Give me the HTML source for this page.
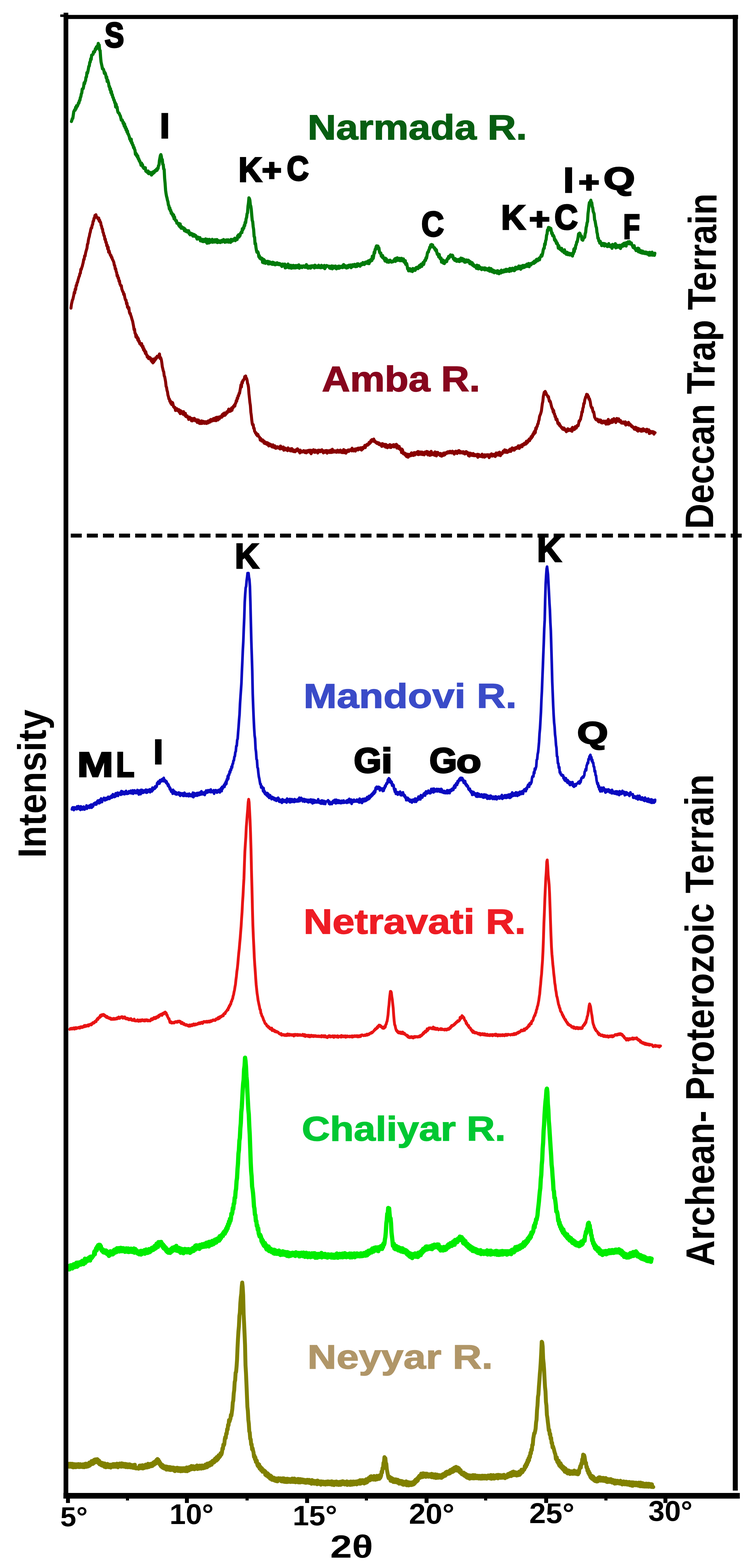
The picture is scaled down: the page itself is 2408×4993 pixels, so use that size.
<!DOCTYPE html>
<html><head><meta charset="utf-8"><title>XRD patterns</title>
<style>html,body{margin:0;padding:0;background:#fff;}svg{display:block;}</style>
</head><body>
<svg width="2408" height="4993" viewBox="0 0 2408 4993"><rect x="0" y="0" width="2408" height="4993" fill="#fff"/>
<polyline points="227.4,386.9 228.9,382.9 230.4,377.6 231.9,376.7 233.4,366.5 234.9,355.8 236.4,352.7 237.9,349.3 239.4,351.0 240.9,341.5 242.4,346.1 243.9,336.4 245.4,339.6 246.9,337.1 248.4,333.4 249.9,327.5 251.4,328.2 252.9,320.2 254.4,319.6 255.9,310.9 257.4,308.0 258.9,299.3 260.4,296.3 261.9,283.9 263.4,282.4 264.9,282.1 266.4,274.9 267.9,263.8 269.4,266.7 270.9,259.8 272.4,257.1 273.9,245.9 275.4,245.0 276.9,231.1 278.4,233.4 279.9,227.7 281.4,220.2 282.9,211.1 284.4,210.2 285.9,198.3 287.4,197.8 288.9,187.1 290.4,189.5 291.9,175.8 293.4,175.6 294.9,173.7 296.4,172.9 297.9,164.9 299.4,166.7 300.9,165.7 302.4,160.6 303.9,155.0 305.4,157.3 306.9,149.5 308.4,154.5 309.9,146.5 311.4,149.6 312.9,138.3 314.4,149.6 315.9,143.4 317.4,159.9 318.9,160.7 320.4,182.5 321.9,197.5 323.4,204.3 324.9,211.3 326.4,219.2 327.9,218.6 329.4,220.5 330.9,225.0 332.4,233.7 333.9,230.8 335.4,233.4 336.9,238.8 338.4,248.3 339.9,245.1 341.4,259.7 342.9,254.8 344.4,260.3 345.9,265.0 347.4,275.7 348.9,275.3 350.4,285.9 351.9,282.4 353.4,295.4 354.9,291.0 356.4,301.9 357.9,301.8 359.4,310.0 360.9,311.1 362.4,318.4 363.9,318.8 365.4,327.2 366.9,326.6 368.4,340.7 369.9,331.9 371.4,343.2 372.9,340.6 374.4,351.6 375.9,357.6 377.4,359.5 378.9,359.8 380.4,363.3 381.9,366.9 383.4,369.5 384.9,375.4 386.4,382.5 387.9,382.8 389.4,382.3 390.9,386.8 392.4,393.3 393.9,390.2 395.4,401.1 396.9,395.3 398.4,406.9 399.9,403.5 401.4,413.8 402.9,410.1 404.4,420.6 405.9,416.8 407.4,426.4 408.9,426.9 410.4,431.9 411.9,435.8 413.4,443.3 414.9,442.4 416.4,449.6 417.9,443.1 419.4,455.8 420.9,454.4 422.4,462.0 423.9,461.8 425.4,470.3 426.9,469.2 428.4,475.3 429.9,478.0 431.4,491.4 432.9,487.4 434.4,495.3 435.9,492.1 437.4,500.1 438.9,496.9 440.4,505.9 441.9,505.1 443.4,512.1 444.9,511.8 446.4,517.4 447.9,520.2 449.4,526.6 450.9,519.6 452.4,526.7 453.9,524.3 455.4,532.7 456.9,532.1 458.4,536.6 459.9,535.7 461.4,537.3 462.9,534.0 464.4,545.1 465.9,545.7 467.4,547.3 468.9,545.6 470.4,549.8 471.9,544.6 473.4,553.0 474.9,548.5 476.4,552.8 477.9,549.0 479.4,553.2 480.9,551.0 482.4,557.5 483.9,549.2 485.4,554.2 486.9,547.4 488.4,551.8 489.9,546.0 491.4,549.2 492.9,544.6 494.4,542.7 495.9,541.9 497.4,544.0 498.9,538.4 500.4,542.1 501.9,535.4 503.4,536.7 504.9,527.3 506.4,526.2 507.9,510.8 509.4,502.9 510.9,495.2 512.4,492.2 513.9,497.8 515.4,510.2 516.9,508.0 518.4,523.2 519.9,524.0 521.4,538.1 522.9,539.3 524.4,568.2 525.9,583.8 527.4,605.7 528.9,616.6 530.4,624.8 531.9,630.0 533.4,637.9 534.9,642.2 536.4,652.9 537.9,654.7 539.4,665.3 540.9,661.9 542.4,671.0 543.9,669.6 545.4,679.3 546.9,676.8 548.4,683.3 549.9,681.6 551.4,689.0 552.9,684.2 554.4,696.8 555.9,690.8 557.4,699.1 558.9,701.4 560.4,703.7 561.9,702.5 563.4,710.8 564.9,710.7 566.4,711.4 567.9,711.0 569.4,717.7 570.9,711.9 572.4,721.8 573.9,713.2 575.4,722.7 576.9,726.7 578.4,721.8 579.9,723.6 581.4,727.3 582.9,724.9 584.4,725.5 585.9,726.8 587.4,734.5 588.9,728.5 590.4,735.8 591.9,733.1 593.4,737.4 594.9,733.8 596.4,738.7 597.9,736.3 599.4,738.4 600.9,734.6 602.4,743.9 603.9,740.3 605.4,747.7 606.9,742.6 608.4,746.7 609.9,743.4 611.4,748.0 612.9,744.7 614.4,751.9 615.9,746.2 617.4,751.7 618.9,747.0 620.4,752.4 621.9,749.3 623.4,750.1 624.9,752.0 626.4,758.1 627.9,761.4 629.4,758.7 630.9,755.2 632.4,759.6 633.9,756.5 635.4,761.9 636.9,756.7 638.4,766.9 639.9,761.4 641.4,764.6 642.9,762.6 644.4,768.8 645.9,762.3 647.4,769.5 648.9,762.8 650.4,767.5 651.9,764.6 653.4,769.3 654.9,760.7 656.4,765.1 657.9,770.5 659.4,774.5 660.9,762.2 662.4,771.2 663.9,765.0 665.4,773.6 666.9,762.3 668.4,771.6 669.9,764.8 671.4,771.2 672.9,766.5 674.4,769.4 675.9,762.1 677.4,771.5 678.9,763.9 680.4,770.0 681.9,766.6 683.4,770.7 684.9,763.2 686.4,764.8 687.9,766.1 689.4,770.9 690.9,762.8 692.4,772.4 693.9,766.4 695.4,771.6 696.9,766.2 698.4,770.0 699.9,770.9 701.4,772.3 702.9,766.8 704.4,770.8 705.9,765.5 707.4,770.6 708.9,766.5 710.4,766.6 711.9,762.7 713.4,769.4 714.9,766.0 716.4,771.6 717.9,764.9 719.4,769.3 720.9,763.9 722.4,770.5 723.9,764.1 725.4,770.0 726.9,763.5 728.4,771.0 729.9,770.2 731.4,768.4 732.9,764.7 734.4,771.8 735.9,762.3 737.4,767.4 738.9,762.7 740.4,767.7 741.9,762.6 743.4,765.1 744.9,761.7 746.4,764.2 747.9,758.4 749.4,766.4 750.9,761.7 752.4,761.9 753.9,760.3 755.4,762.7 756.9,751.1 758.4,755.0 759.9,747.6 761.4,754.9 762.9,747.1 764.4,750.8 765.9,743.3 767.4,741.3 768.9,738.4 770.4,740.8 771.9,728.4 773.4,732.1 774.9,725.1 776.4,726.8 777.9,717.4 779.4,718.8 780.9,707.7 782.4,709.3 783.9,696.7 785.4,692.6 786.9,680.9 788.4,677.8 789.9,656.8 791.4,647.1 792.9,629.9 794.4,632.5 795.9,637.6 797.4,652.6 798.9,656.7 800.4,667.1 801.9,685.5 803.4,701.7 804.9,705.7 806.4,721.8 807.9,730.8 809.4,752.9 810.9,755.4 812.4,776.8 813.9,775.3 815.4,788.7 816.9,797.3 818.4,803.2 819.9,800.7 821.4,802.4 822.9,806.6 824.4,817.5 825.9,814.1 827.4,822.0 828.9,819.5 830.4,824.6 831.9,821.3 833.4,822.4 834.9,823.0 836.4,835.6 837.9,825.6 839.4,836.9 840.9,826.7 842.4,829.6 843.9,831.0 845.4,838.5 846.9,832.1 848.4,835.9 849.9,833.4 851.4,833.6 852.9,832.1 854.4,840.4 855.9,833.4 857.4,840.3 858.9,833.6 860.4,839.8 861.9,836.3 863.4,839.8 864.9,836.1 866.4,841.6 867.9,835.1 869.4,841.9 870.9,835.6 872.4,840.4 873.9,837.3 875.4,842.9 876.9,843.3 878.4,842.4 879.9,837.7 881.4,841.8 882.9,836.7 884.4,842.0 885.9,838.9 887.4,842.6 888.9,838.7 890.4,842.8 891.9,839.8 893.4,843.9 894.9,841.1 896.4,845.4 897.9,848.4 899.4,848.0 900.9,840.8 902.4,845.7 903.9,845.8 905.4,846.1 906.9,840.9 908.4,853.1 909.9,844.0 911.4,852.0 912.9,845.4 914.4,851.1 915.9,843.8 917.4,840.8 918.9,843.5 920.4,852.8 921.9,850.5 923.4,852.6 924.9,851.7 926.4,844.8 927.9,854.0 929.4,846.2 930.9,847.1 932.4,853.0 933.9,845.0 935.4,851.7 936.9,853.2 938.4,845.9 939.9,847.4 941.4,853.1 942.9,845.5 944.4,851.7 945.9,846.5 947.4,851.9 948.9,845.0 950.4,850.1 951.9,843.6 953.4,854.1 954.9,846.7 956.4,850.0 957.9,847.6 959.4,851.3 960.9,846.9 962.4,852.0 963.9,850.0 965.4,850.0 966.9,846.5 968.4,847.5 969.9,846.9 971.4,851.4 972.9,847.0 974.4,850.4 975.9,842.6 977.4,851.8 978.9,846.5 980.4,853.5 981.9,853.8 983.4,850.7 984.9,847.5 986.4,853.1 987.9,852.4 989.4,853.7 990.9,846.6 992.4,850.6 993.9,846.5 995.4,850.5 996.9,846.3 998.4,850.9 999.9,847.9 1001.4,853.2 1002.9,844.5 1004.4,851.5 1005.9,846.0 1007.4,850.8 1008.9,851.6 1010.4,850.9 1011.9,847.4 1013.4,851.8 1014.9,844.6 1016.4,850.9 1017.9,848.0 1019.4,852.3 1020.9,847.3 1022.4,852.5 1023.9,844.8 1025.4,851.5 1026.9,848.1 1028.4,851.8 1029.9,847.9 1031.4,847.0 1032.9,845.3 1034.4,855.5 1035.9,848.5 1037.4,851.4 1038.9,848.7 1040.4,845.5 1041.9,846.4 1043.4,847.0 1044.9,847.8 1046.4,847.4 1047.9,847.9 1049.4,853.1 1050.9,847.8 1052.4,854.7 1053.9,852.9 1055.4,853.5 1056.9,846.7 1058.4,856.0 1059.9,848.5 1061.4,852.1 1062.9,847.4 1064.4,852.9 1065.9,848.1 1067.4,852.6 1068.9,847.1 1070.4,855.0 1071.9,856.1 1073.4,853.1 1074.9,849.4 1076.4,853.1 1077.9,847.4 1079.4,854.5 1080.9,847.4 1082.4,852.2 1083.9,852.5 1085.4,852.0 1086.9,847.9 1088.4,847.4 1089.9,848.0 1091.4,852.2 1092.9,845.6 1094.4,842.4 1095.9,848.6 1097.4,851.1 1098.9,845.5 1100.4,850.6 1101.9,851.5 1103.4,853.5 1104.9,847.7 1106.4,846.3 1107.9,852.4 1109.4,849.7 1110.9,844.6 1112.4,846.9 1113.9,844.3 1115.4,849.6 1116.9,843.8 1118.4,852.3 1119.9,845.0 1121.4,849.4 1122.9,843.0 1124.4,848.4 1125.9,843.4 1127.4,847.8 1128.9,841.8 1130.4,844.3 1131.9,849.2 1133.4,847.9 1134.9,842.0 1136.4,848.7 1137.9,840.2 1139.4,846.2 1140.9,840.1 1142.4,845.4 1143.9,846.2 1145.4,846.1 1146.9,847.7 1148.4,843.6 1149.9,839.9 1151.4,843.5 1152.9,839.8 1154.4,842.4 1155.9,836.0 1157.4,837.7 1158.9,837.8 1160.4,842.3 1161.9,837.0 1163.4,835.3 1164.9,834.6 1166.4,838.5 1167.9,834.3 1169.4,837.7 1170.9,832.2 1172.4,839.2 1173.9,830.2 1175.4,839.5 1176.9,830.5 1178.4,834.0 1179.9,827.6 1181.4,830.7 1182.9,825.0 1184.4,829.8 1185.9,815.8 1187.4,824.3 1188.9,822.5 1190.4,813.3 1191.9,802.5 1193.4,805.6 1194.9,794.2 1196.4,794.2 1197.9,786.3 1199.4,782.9 1200.9,788.6 1202.4,783.4 1203.9,783.8 1205.4,792.8 1206.9,789.4 1208.4,800.6 1209.9,805.2 1211.4,806.9 1212.9,805.7 1214.4,815.4 1215.9,812.4 1217.4,819.2 1218.9,813.7 1220.4,821.6 1221.9,820.2 1223.4,824.8 1224.9,826.5 1226.4,831.0 1227.9,822.2 1229.4,827.2 1230.9,825.0 1232.4,834.2 1233.9,832.4 1235.4,834.5 1236.9,830.5 1238.4,834.9 1239.9,829.0 1241.4,833.7 1242.9,828.6 1244.4,833.6 1245.9,833.7 1247.4,834.8 1248.9,832.2 1250.4,833.6 1251.9,833.5 1253.4,831.0 1254.9,827.7 1256.4,830.4 1257.9,824.0 1259.4,832.4 1260.9,822.8 1262.4,827.8 1263.9,828.6 1265.4,820.9 1266.9,829.2 1268.4,826.6 1269.9,828.7 1271.4,826.3 1272.9,822.7 1274.4,830.3 1275.9,828.4 1277.4,826.3 1278.9,822.5 1280.4,830.3 1281.9,826.2 1283.4,830.6 1284.9,824.4 1286.4,833.5 1287.9,829.5 1289.4,836.9 1290.9,830.1 1292.4,842.1 1293.9,838.5 1295.4,839.2 1296.9,846.7 1298.4,856.5 1299.9,853.6 1301.4,862.5 1302.9,857.4 1304.4,858.6 1305.9,855.5 1307.4,862.8 1308.9,858.9 1310.4,858.9 1311.9,858.3 1313.4,864.7 1314.9,855.0 1316.4,860.8 1317.9,857.3 1319.4,860.7 1320.9,855.5 1322.4,860.9 1323.9,857.4 1325.4,852.1 1326.9,851.7 1328.4,855.2 1329.9,850.9 1331.4,855.4 1332.9,849.2 1334.4,851.8 1335.9,845.4 1337.4,851.6 1338.9,843.6 1340.4,848.0 1341.9,840.9 1343.4,848.2 1344.9,839.8 1346.4,842.3 1347.9,835.5 1349.4,842.2 1350.9,835.7 1352.4,830.4 1353.9,827.5 1355.4,829.3 1356.9,820.6 1358.4,822.6 1359.9,814.7 1361.4,805.7 1362.9,802.3 1364.4,802.7 1365.9,796.0 1367.4,793.9 1368.9,786.9 1370.4,788.7 1371.9,779.8 1373.4,785.7 1374.9,778.6 1376.4,785.0 1377.9,780.0 1379.4,784.8 1380.9,787.8 1382.4,789.1 1383.9,788.8 1385.4,794.6 1386.9,792.5 1388.4,798.8 1389.9,795.5 1391.4,803.7 1392.9,809.9 1394.4,807.6 1395.9,811.0 1397.4,818.1 1398.9,810.1 1400.4,818.5 1401.9,823.6 1403.4,821.0 1404.9,821.7 1406.4,834.9 1407.9,834.1 1409.4,834.3 1410.9,828.2 1412.4,838.0 1413.9,832.8 1415.4,839.3 1416.9,833.5 1418.4,830.5 1419.9,832.8 1421.4,833.4 1422.9,832.9 1424.4,825.1 1425.9,822.8 1427.4,824.2 1428.9,816.6 1430.4,821.6 1431.9,816.6 1433.4,816.5 1434.9,811.6 1436.4,814.3 1437.9,816.1 1439.4,817.1 1440.9,812.4 1442.4,815.2 1443.9,823.4 1445.4,825.5 1446.9,823.6 1448.4,829.2 1449.9,823.3 1451.4,828.9 1452.9,829.7 1454.4,832.0 1455.9,826.6 1457.4,829.6 1458.9,826.8 1460.4,832.1 1461.9,825.9 1463.4,832.9 1464.9,825.6 1466.4,830.3 1467.9,821.8 1469.4,830.6 1470.9,826.6 1472.4,823.1 1473.9,830.8 1475.4,824.7 1476.9,830.3 1478.4,826.3 1479.9,834.8 1481.4,835.0 1482.9,828.8 1484.4,833.6 1485.9,827.7 1487.4,833.7 1488.9,829.9 1490.4,833.4 1491.9,828.5 1493.4,834.6 1494.9,831.5 1496.4,839.5 1497.9,833.2 1499.4,839.0 1500.9,841.1 1502.4,841.7 1503.9,836.4 1505.4,844.7 1506.9,840.5 1508.4,846.6 1509.9,844.6 1511.4,848.8 1512.9,846.1 1514.4,849.7 1515.9,848.0 1517.4,854.4 1518.9,844.4 1520.4,854.8 1521.9,848.6 1523.4,856.2 1524.9,846.1 1526.4,855.1 1527.9,855.0 1529.4,851.0 1530.9,852.1 1532.4,856.3 1533.9,858.5 1535.4,855.5 1536.9,853.1 1538.4,856.2 1539.9,857.0 1541.4,858.2 1542.9,853.1 1544.4,859.4 1545.9,853.4 1547.4,858.8 1548.9,855.3 1550.4,858.7 1551.9,855.8 1553.4,860.5 1554.9,856.2 1556.4,860.8 1557.9,853.6 1559.4,863.5 1560.9,862.0 1562.4,863.6 1563.9,855.2 1565.4,857.2 1566.9,861.1 1568.4,865.9 1569.9,859.9 1571.4,864.9 1572.9,861.2 1574.4,868.7 1575.9,863.5 1577.4,867.3 1578.9,863.3 1580.4,867.0 1581.9,863.1 1583.4,869.9 1584.9,861.9 1586.4,868.5 1587.9,863.4 1589.4,871.6 1590.9,868.8 1592.4,868.3 1593.9,863.8 1595.4,869.1 1596.9,860.2 1598.4,867.0 1599.9,863.5 1601.4,866.8 1602.9,862.1 1604.4,865.9 1605.9,859.7 1607.4,865.0 1608.9,860.4 1610.4,864.3 1611.9,857.5 1613.4,864.2 1614.9,858.0 1616.4,862.4 1617.9,861.8 1619.4,863.4 1620.9,856.9 1622.4,864.3 1623.9,854.7 1625.4,861.5 1626.9,862.1 1628.4,862.6 1629.9,855.0 1631.4,860.6 1632.9,854.1 1634.4,855.7 1635.9,855.6 1637.4,862.1 1638.9,861.3 1640.4,858.2 1641.9,850.9 1643.4,857.9 1644.9,851.6 1646.4,856.0 1647.9,851.9 1649.4,856.1 1650.9,851.3 1652.4,847.1 1653.9,848.0 1655.4,854.4 1656.9,847.7 1658.4,857.4 1659.9,849.1 1661.4,852.8 1662.9,846.4 1664.4,853.1 1665.9,845.1 1667.4,851.3 1668.9,845.7 1670.4,851.5 1671.9,844.9 1673.4,848.5 1674.9,844.5 1676.4,848.5 1677.9,841.3 1679.4,848.2 1680.9,840.8 1682.4,842.1 1683.9,839.1 1685.4,849.3 1686.9,840.7 1688.4,844.0 1689.9,839.3 1691.4,843.5 1692.9,840.1 1694.4,839.6 1695.9,836.7 1697.4,838.6 1698.9,834.4 1700.4,838.7 1701.9,831.6 1703.4,836.5 1704.9,831.5 1706.4,834.1 1707.9,827.7 1709.4,825.6 1710.9,827.7 1712.4,830.5 1713.9,825.9 1715.4,826.9 1716.9,822.2 1718.4,827.5 1719.9,820.1 1721.4,818.3 1722.9,816.0 1724.4,811.5 1725.9,815.8 1727.4,810.9 1728.9,804.5 1730.4,795.2 1731.9,790.8 1733.4,790.9 1734.9,776.5 1736.4,779.2 1737.9,767.2 1739.4,763.4 1740.9,749.0 1742.4,745.4 1743.9,732.0 1745.4,734.5 1746.9,724.2 1748.4,729.3 1749.9,724.7 1751.4,730.2 1752.9,727.7 1754.4,727.3 1755.9,735.1 1757.4,743.8 1758.9,741.6 1760.4,750.6 1761.9,748.6 1763.4,751.3 1764.9,754.6 1766.4,764.6 1767.9,762.0 1769.4,768.5 1770.9,766.6 1772.4,775.5 1773.9,772.4 1775.4,775.6 1776.9,779.9 1778.4,790.2 1779.9,782.7 1781.4,790.5 1782.9,793.0 1784.4,794.1 1785.9,790.4 1787.4,796.7 1788.9,790.8 1790.4,799.8 1791.9,797.2 1793.4,798.5 1794.9,797.9 1796.4,804.4 1797.9,795.5 1799.4,806.1 1800.9,801.2 1802.4,807.1 1803.9,809.8 1805.4,807.8 1806.9,803.5 1808.4,810.8 1809.9,806.5 1811.4,810.9 1812.9,806.5 1814.4,812.0 1815.9,807.2 1817.4,811.8 1818.9,808.0 1820.4,807.9 1821.9,808.3 1823.4,815.4 1824.9,805.0 1826.4,807.8 1827.9,793.2 1829.4,801.2 1830.9,789.4 1832.4,792.2 1833.9,780.8 1835.4,779.5 1836.9,770.5 1838.4,770.4 1839.9,763.3 1841.4,755.3 1842.9,744.8 1844.4,745.1 1845.9,742.2 1847.4,743.5 1848.9,750.3 1850.4,752.4 1851.9,751.3 1853.4,762.8 1854.9,763.8 1856.4,765.0 1857.9,758.9 1859.4,758.4 1860.9,756.6 1862.4,755.3 1863.9,744.0 1865.4,740.2 1866.9,724.6 1868.4,719.5 1869.9,709.3 1871.4,706.0 1872.9,680.7 1874.4,669.1 1875.9,654.8 1877.4,645.0 1878.9,644.5 1880.4,642.1 1881.9,637.6 1883.4,645.7 1884.9,645.7 1886.4,658.4 1887.9,661.5 1889.4,673.4 1890.9,676.9 1892.4,681.4 1893.9,699.8 1895.4,703.2 1896.9,712.3 1898.4,721.3 1899.9,724.8 1901.4,739.9 1902.9,745.0 1904.4,758.8 1905.9,758.1 1907.4,767.4 1908.9,766.5 1910.4,774.2 1911.9,768.4 1913.4,775.5 1914.9,773.6 1916.4,782.1 1917.9,775.2 1919.4,778.7 1920.9,775.2 1922.4,781.9 1923.9,775.4 1925.4,783.4 1926.9,777.3 1928.4,776.7 1929.9,778.0 1931.4,782.1 1932.9,782.6 1934.4,785.2 1935.9,783.8 1937.4,784.6 1938.9,775.8 1940.4,780.7 1941.9,780.2 1943.4,785.5 1944.9,781.3 1946.4,784.5 1947.9,780.6 1949.4,790.7 1950.9,778.2 1952.4,785.7 1953.9,780.1 1955.4,785.2 1956.9,781.7 1958.4,785.4 1959.9,775.9 1961.4,789.4 1962.9,786.5 1964.4,786.3 1965.9,781.0 1967.4,787.4 1968.9,783.7 1970.4,786.4 1971.9,781.3 1973.4,787.9 1974.9,781.1 1976.4,791.2 1977.9,781.9 1979.4,786.4 1980.9,784.2 1982.4,778.3 1983.9,780.5 1985.4,783.5 1986.9,774.9 1988.4,782.1 1989.9,777.0 1991.4,773.7 1992.9,779.1 1994.4,783.5 1995.9,772.5 1997.4,776.9 1998.9,772.0 2000.4,769.8 2001.9,771.9 2003.4,776.3 2004.9,769.5 2006.4,776.3 2007.9,772.8 2009.4,777.0 2010.9,773.5 2012.4,779.5 2013.9,781.5 2015.4,784.4 2016.9,788.4 2018.4,788.7 2019.9,782.3 2021.4,791.3 2022.9,789.7 2024.4,794.2 2025.9,797.9 2027.4,797.7 2028.9,792.9 2030.4,798.2 2031.9,790.2 2033.4,801.7 2034.9,791.8 2036.4,800.2 2037.9,802.9 2039.4,803.9 2040.9,797.9 2042.4,802.8 2043.9,805.6 2045.4,804.2 2046.9,799.4 2048.4,806.6 2049.9,804.5 2051.4,805.7 2052.9,802.4 2054.4,807.5 2055.9,802.6 2057.4,807.4 2058.9,803.0 2060.4,808.6 2061.9,804.6 2063.4,809.3 2064.9,804.3 2066.4,812.1 2067.9,812.7 2069.4,803.4 2070.9,805.9 2072.4,812.3 2073.9,806.9 2075.4,811.6 2076.9,803.0 2078.4,812.6 2079.9,807.3 2081.4,812.4 2082.9,809.1 2084.4,813.1 2085.8,806.3" fill="none" stroke="#007a0a" stroke-width="10" stroke-linejoin="round" stroke-linecap="round"/>
<polyline points="226.0,981.3 227.5,969.3 229.0,962.9 230.5,955.8 232.0,953.3 233.5,946.4 235.0,940.0 236.5,930.7 238.0,933.1 239.5,920.4 241.0,922.2 242.5,909.2 244.0,909.1 245.5,900.3 247.0,899.0 248.5,892.0 250.0,887.0 251.5,881.5 253.0,879.1 254.5,870.8 256.0,870.2 257.5,857.1 259.0,857.9 260.5,852.0 262.0,848.1 263.5,841.7 265.0,836.1 266.5,826.2 268.0,826.2 269.5,814.6 271.0,815.7 272.5,806.2 274.0,800.2 275.5,795.2 277.0,790.2 278.5,777.6 280.0,775.7 281.5,764.8 283.0,757.5 284.5,753.0 286.0,744.1 287.5,739.6 289.0,731.0 290.5,725.7 292.0,726.1 293.5,716.9 295.0,715.0 296.5,704.4 298.0,703.9 299.5,694.9 301.0,695.1 302.5,685.8 304.0,689.9 305.5,683.7 307.0,689.9 308.5,691.4 310.0,692.7 311.5,695.7 313.0,697.9 314.5,694.1 316.0,704.1 317.5,701.0 319.0,707.5 320.5,707.9 322.0,717.3 323.5,719.9 325.0,727.9 326.5,729.0 328.0,739.9 329.5,741.8 331.0,750.4 332.5,751.1 334.0,762.6 335.5,761.1 337.0,771.5 338.5,771.6 340.0,782.8 341.5,780.2 343.0,792.8 344.5,787.0 346.0,803.2 347.5,798.3 349.0,804.4 350.5,809.7 352.0,813.3 353.5,813.0 355.0,819.7 356.5,819.5 358.0,826.0 359.5,827.9 361.0,831.8 362.5,835.0 364.0,844.2 365.5,845.7 367.0,856.3 368.5,855.5 370.0,864.8 371.5,867.4 373.0,879.0 374.5,876.5 376.0,885.8 377.5,884.7 379.0,895.7 380.5,893.7 382.0,904.4 383.5,906.8 385.0,910.8 386.5,909.6 388.0,920.4 389.5,924.3 391.0,928.8 392.5,929.9 394.0,938.0 395.5,936.1 397.0,944.4 398.5,951.5 400.0,955.8 401.5,955.6 403.0,967.7 404.5,964.9 406.0,978.5 407.5,975.8 409.0,983.4 410.5,979.7 412.0,993.4 413.5,998.3 415.0,998.1 416.5,1004.3 418.0,1008.0 419.5,1013.5 421.0,1018.9 422.5,1023.1 424.0,1031.4 425.5,1039.0 427.0,1049.9 428.5,1047.8 430.0,1061.0 431.5,1061.9 433.0,1073.0 434.5,1067.4 436.0,1076.1 437.5,1073.2 439.0,1082.9 440.5,1077.7 442.0,1087.9 443.5,1085.9 445.0,1094.2 446.5,1094.2 448.0,1095.3 449.5,1099.7 451.0,1093.8 452.5,1100.4 454.0,1106.6 455.5,1102.6 457.0,1113.9 458.5,1109.9 460.0,1118.3 461.5,1116.0 463.0,1125.4 464.5,1120.3 466.0,1129.0 467.5,1129.6 469.0,1137.0 470.5,1133.5 472.0,1138.4 473.5,1142.1 475.0,1139.0 476.5,1137.8 478.0,1140.4 479.5,1140.2 481.0,1148.1 482.5,1144.7 484.0,1152.0 485.5,1146.8 487.0,1155.5 488.5,1143.1 490.0,1152.4 491.5,1146.1 493.0,1148.0 494.5,1146.0 496.0,1139.0 497.5,1142.0 499.0,1139.7 500.5,1134.2 502.0,1137.1 503.5,1134.8 505.0,1136.6 506.5,1131.3 508.0,1126.9 509.5,1141.2 511.0,1138.0 512.5,1140.8 514.0,1146.2 515.5,1155.6 517.0,1168.0 518.5,1173.8 520.0,1180.9 521.5,1184.0 523.0,1196.8 524.5,1199.4 526.0,1207.5 527.5,1215.8 529.0,1230.2 530.5,1233.5 532.0,1243.4 533.5,1247.6 535.0,1258.5 536.5,1262.9 538.0,1270.2 539.5,1270.4 541.0,1278.3 542.5,1276.2 544.0,1284.3 545.5,1281.9 547.0,1288.5 548.5,1281.2 550.0,1282.8 551.5,1289.2 553.0,1295.8 554.5,1295.5 556.0,1299.1 557.5,1297.3 559.0,1307.3 560.5,1303.5 562.0,1304.4 563.5,1301.3 565.0,1307.2 566.5,1305.2 568.0,1308.6 569.5,1304.2 571.0,1312.6 572.5,1306.5 574.0,1317.3 575.5,1307.9 577.0,1315.0 578.5,1311.3 580.0,1315.9 581.5,1311.0 583.0,1319.2 584.5,1310.8 586.0,1319.4 587.5,1316.5 589.0,1323.1 590.5,1316.1 592.0,1326.4 593.5,1323.5 595.0,1327.3 596.5,1324.3 598.0,1329.5 599.5,1328.6 601.0,1335.8 602.5,1330.0 604.0,1328.3 605.5,1331.5 607.0,1334.8 608.5,1331.6 610.0,1340.1 611.5,1334.1 613.0,1340.3 614.5,1332.8 616.0,1338.1 617.5,1334.0 619.0,1332.0 620.5,1334.7 622.0,1340.0 623.5,1337.8 625.0,1340.4 626.5,1336.7 628.0,1345.1 629.5,1337.0 631.0,1342.2 632.5,1337.6 634.0,1347.5 635.5,1346.6 637.0,1348.7 638.5,1345.7 640.0,1348.3 641.5,1340.1 643.0,1348.5 644.5,1340.9 646.0,1347.2 647.5,1341.7 649.0,1347.0 650.5,1347.9 652.0,1348.1 653.5,1342.6 655.0,1346.8 656.5,1343.9 658.0,1348.4 659.5,1342.3 661.0,1346.9 662.5,1340.5 664.0,1346.4 665.5,1339.9 667.0,1343.9 668.5,1337.7 670.0,1343.7 671.5,1335.6 673.0,1340.2 674.5,1336.6 676.0,1340.5 677.5,1336.0 679.0,1333.6 680.5,1332.4 682.0,1339.3 683.5,1333.0 685.0,1338.8 686.5,1330.3 688.0,1339.7 689.5,1328.8 691.0,1335.5 692.5,1335.4 694.0,1337.5 695.5,1328.1 697.0,1332.8 698.5,1334.1 700.0,1330.6 701.5,1326.6 703.0,1326.7 704.5,1328.3 706.0,1328.9 707.5,1320.6 709.0,1325.6 710.5,1317.8 712.0,1323.8 713.5,1317.3 715.0,1314.9 716.5,1322.5 718.0,1320.7 719.5,1318.2 721.0,1317.0 722.5,1311.2 724.0,1314.6 725.5,1309.5 727.0,1307.7 728.5,1302.6 730.0,1309.4 731.5,1310.2 733.0,1306.8 734.5,1309.3 736.0,1304.8 737.5,1299.1 739.0,1306.6 740.5,1297.0 742.0,1299.5 743.5,1293.6 745.0,1295.0 746.5,1289.7 748.0,1293.3 749.5,1284.9 751.0,1283.9 752.5,1275.7 754.0,1277.7 755.5,1267.5 757.0,1269.3 758.5,1259.8 760.0,1260.5 761.5,1252.6 763.0,1252.8 764.5,1243.3 766.0,1235.4 767.5,1225.3 769.0,1232.4 770.5,1217.1 772.0,1219.8 773.5,1211.6 775.0,1212.2 776.5,1208.1 778.0,1207.1 779.5,1199.3 781.0,1201.2 782.5,1197.1 784.0,1206.2 785.5,1204.9 787.0,1210.4 788.5,1220.6 790.0,1224.4 791.5,1233.1 793.0,1253.7 794.5,1267.3 796.0,1282.0 797.5,1291.4 799.0,1312.9 800.5,1323.1 802.0,1338.2 803.5,1349.4 805.0,1353.5 806.5,1352.0 808.0,1363.7 809.5,1363.7 811.0,1373.5 812.5,1374.9 814.0,1379.4 815.5,1378.2 817.0,1384.4 818.5,1381.5 820.0,1387.9 821.5,1383.2 823.0,1388.4 824.5,1390.2 826.0,1391.3 827.5,1394.5 829.0,1401.6 830.5,1396.2 832.0,1401.2 833.5,1404.4 835.0,1404.4 836.5,1400.7 838.0,1406.2 839.5,1403.5 841.0,1411.0 842.5,1405.9 844.0,1412.6 845.5,1408.8 847.0,1409.5 848.5,1408.9 850.0,1415.1 851.5,1409.7 853.0,1415.4 854.5,1411.3 856.0,1420.1 857.5,1413.2 859.0,1418.1 860.5,1414.4 862.0,1419.2 863.5,1415.9 865.0,1421.7 866.5,1423.2 868.0,1423.2 869.5,1416.5 871.0,1424.3 872.5,1419.8 874.0,1424.7 875.5,1419.5 877.0,1426.8 878.5,1427.6 880.0,1426.9 881.5,1425.4 883.0,1422.5 884.5,1422.8 886.0,1426.6 887.5,1423.8 889.0,1427.4 890.5,1423.6 892.0,1429.7 893.5,1420.2 895.0,1428.5 896.5,1423.8 898.0,1428.8 899.5,1423.9 901.0,1429.4 902.5,1423.3 904.0,1433.8 905.5,1430.6 907.0,1427.7 908.5,1426.9 910.0,1432.6 911.5,1429.1 913.0,1431.6 914.5,1429.7 916.0,1435.2 917.5,1426.1 919.0,1433.6 920.5,1430.0 922.0,1432.8 923.5,1429.8 925.0,1435.9 926.5,1428.9 928.0,1435.5 929.5,1428.4 931.0,1436.5 932.5,1431.1 934.0,1436.1 935.5,1438.1 937.0,1435.9 938.5,1437.4 940.0,1438.7 941.5,1432.4 943.0,1436.4 944.5,1433.5 946.0,1431.8 947.5,1429.0 949.0,1432.2 950.5,1433.1 952.0,1437.7 953.5,1433.4 955.0,1442.3 956.5,1433.2 958.0,1436.7 959.5,1436.7 961.0,1439.6 962.5,1439.3 964.0,1438.0 965.5,1438.9 967.0,1434.9 968.5,1435.2 970.0,1439.7 971.5,1441.3 973.0,1438.0 974.5,1435.6 976.0,1442.1 977.5,1438.8 979.0,1439.5 980.5,1434.4 982.0,1438.8 983.5,1434.7 985.0,1433.6 986.5,1434.8 988.0,1441.2 989.5,1433.6 991.0,1444.9 992.5,1434.5 994.0,1440.6 995.5,1436.0 997.0,1439.5 998.5,1432.0 1000.0,1439.1 1001.5,1435.0 1003.0,1440.7 1004.5,1433.5 1006.0,1434.6 1007.5,1435.5 1009.0,1435.8 1010.5,1436.3 1012.0,1442.6 1013.5,1433.4 1015.0,1433.9 1016.5,1433.3 1018.0,1438.3 1019.5,1434.4 1021.0,1438.3 1022.5,1434.8 1024.0,1432.4 1025.5,1432.3 1027.0,1438.3 1028.5,1435.2 1030.0,1442.3 1031.5,1435.7 1033.0,1436.4 1034.5,1435.4 1036.0,1440.2 1037.5,1434.7 1039.0,1439.0 1040.5,1434.6 1042.0,1443.0 1043.5,1435.5 1045.0,1439.7 1046.5,1435.2 1048.0,1440.0 1049.5,1435.3 1051.0,1441.1 1052.5,1433.6 1054.0,1440.5 1055.5,1440.6 1057.0,1440.9 1058.5,1430.5 1060.0,1438.9 1061.5,1435.4 1063.0,1439.6 1064.5,1435.3 1066.0,1435.8 1067.5,1435.5 1069.0,1439.6 1070.5,1438.3 1072.0,1440.2 1073.5,1436.2 1075.0,1433.2 1076.5,1434.9 1078.0,1439.8 1079.5,1435.0 1081.0,1439.7 1082.5,1435.0 1084.0,1433.1 1085.5,1439.9 1087.0,1436.3 1088.5,1435.5 1090.0,1441.5 1091.5,1435.2 1093.0,1436.2 1094.5,1431.4 1096.0,1441.6 1097.5,1434.4 1099.0,1439.5 1100.5,1434.2 1102.0,1443.0 1103.5,1440.0 1105.0,1438.5 1106.5,1434.2 1108.0,1437.7 1109.5,1432.5 1111.0,1437.5 1112.5,1434.8 1114.0,1434.3 1115.5,1431.9 1117.0,1434.2 1118.5,1432.7 1120.0,1435.7 1121.5,1427.1 1123.0,1435.2 1124.5,1431.7 1126.0,1436.0 1127.5,1432.5 1129.0,1431.1 1130.5,1429.7 1132.0,1436.5 1133.5,1429.3 1135.0,1428.9 1136.5,1430.1 1138.0,1432.4 1139.5,1427.3 1141.0,1432.7 1142.5,1426.8 1144.0,1427.6 1145.5,1428.0 1147.0,1430.7 1148.5,1425.8 1150.0,1430.0 1151.5,1433.2 1153.0,1430.6 1154.5,1424.7 1156.0,1429.5 1157.5,1425.2 1159.0,1424.3 1160.5,1423.1 1162.0,1418.1 1163.5,1425.6 1165.0,1418.8 1166.5,1419.4 1168.0,1416.2 1169.5,1414.7 1171.0,1417.8 1172.5,1413.8 1174.0,1415.4 1175.5,1408.7 1177.0,1412.9 1178.5,1407.0 1180.0,1409.9 1181.5,1402.4 1183.0,1405.4 1184.5,1399.8 1186.0,1403.1 1187.5,1402.7 1189.0,1405.2 1190.5,1397.9 1192.0,1405.4 1193.5,1403.3 1195.0,1407.2 1196.5,1408.7 1198.0,1410.1 1199.5,1407.7 1201.0,1412.3 1202.5,1410.0 1204.0,1411.0 1205.5,1409.8 1207.0,1415.5 1208.5,1411.3 1210.0,1416.4 1211.5,1414.6 1213.0,1417.6 1214.5,1414.7 1216.0,1421.5 1217.5,1412.4 1219.0,1420.4 1220.5,1413.6 1222.0,1420.3 1223.5,1417.4 1225.0,1421.2 1226.5,1415.0 1228.0,1423.9 1229.5,1415.2 1231.0,1421.2 1232.5,1417.8 1234.0,1425.8 1235.5,1418.3 1237.0,1423.6 1238.5,1422.7 1240.0,1422.2 1241.5,1415.7 1243.0,1424.9 1244.5,1418.5 1246.0,1424.9 1247.5,1417.7 1249.0,1421.8 1250.5,1417.2 1252.0,1421.6 1253.5,1415.8 1255.0,1423.4 1256.5,1417.3 1258.0,1419.6 1259.5,1416.0 1261.0,1415.9 1262.5,1414.7 1264.0,1426.8 1265.5,1418.0 1267.0,1425.8 1268.5,1421.2 1270.0,1428.4 1271.5,1421.4 1273.0,1429.9 1274.5,1427.3 1276.0,1433.0 1277.5,1429.4 1279.0,1441.3 1280.5,1430.2 1282.0,1432.7 1283.5,1437.8 1285.0,1445.3 1286.5,1441.6 1288.0,1446.3 1289.5,1442.8 1291.0,1449.6 1292.5,1444.6 1294.0,1453.0 1295.5,1447.4 1297.0,1454.9 1298.5,1446.2 1300.0,1455.9 1301.5,1448.1 1303.0,1452.7 1304.5,1446.7 1306.0,1447.3 1307.5,1451.3 1309.0,1450.9 1310.5,1442.0 1312.0,1449.9 1313.5,1442.9 1315.0,1448.9 1316.5,1450.4 1318.0,1442.6 1319.5,1441.1 1321.0,1449.1 1322.5,1446.2 1324.0,1441.9 1325.5,1441.4 1327.0,1440.1 1328.5,1443.4 1330.0,1447.1 1331.5,1437.6 1333.0,1447.7 1334.5,1440.5 1336.0,1444.6 1337.5,1438.9 1339.0,1446.7 1340.5,1440.3 1342.0,1445.4 1343.5,1439.2 1345.0,1447.6 1346.5,1441.5 1348.0,1445.5 1349.5,1441.1 1351.0,1448.6 1352.5,1439.8 1354.0,1445.2 1355.5,1439.2 1357.0,1443.3 1358.5,1437.6 1360.0,1446.2 1361.5,1437.9 1363.0,1448.8 1364.5,1444.5 1366.0,1443.8 1367.5,1440.2 1369.0,1450.1 1370.5,1445.5 1372.0,1449.1 1373.5,1437.1 1375.0,1444.4 1376.5,1447.9 1378.0,1445.7 1379.5,1442.4 1381.0,1446.3 1382.5,1442.8 1384.0,1449.9 1385.5,1438.9 1387.0,1448.6 1388.5,1443.3 1390.0,1451.8 1391.5,1440.6 1393.0,1447.7 1394.5,1440.4 1396.0,1443.7 1397.5,1443.2 1399.0,1448.1 1400.5,1445.7 1402.0,1450.8 1403.5,1443.7 1405.0,1449.5 1406.5,1452.6 1408.0,1452.1 1409.5,1450.1 1411.0,1448.0 1412.5,1442.7 1414.0,1449.9 1415.5,1442.3 1417.0,1448.1 1418.5,1441.9 1420.0,1444.0 1421.5,1441.5 1423.0,1444.0 1424.5,1439.2 1426.0,1441.9 1427.5,1438.2 1429.0,1442.2 1430.5,1441.4 1432.0,1441.8 1433.5,1436.9 1435.0,1441.5 1436.5,1439.2 1438.0,1442.2 1439.5,1439.2 1441.0,1436.6 1442.5,1442.5 1444.0,1442.6 1445.5,1438.6 1447.0,1446.2 1448.5,1442.0 1450.0,1442.4 1451.5,1436.7 1453.0,1442.2 1454.5,1438.1 1456.0,1444.2 1457.5,1437.6 1459.0,1435.9 1460.5,1438.6 1462.0,1434.6 1463.5,1441.9 1465.0,1442.3 1466.5,1437.6 1468.0,1441.7 1469.5,1439.2 1471.0,1442.1 1472.5,1438.8 1474.0,1443.0 1475.5,1438.3 1477.0,1440.9 1478.5,1439.6 1480.0,1445.7 1481.5,1441.0 1483.0,1445.1 1484.5,1438.0 1486.0,1440.9 1487.5,1439.5 1489.0,1444.1 1490.5,1441.4 1492.0,1450.7 1493.5,1443.9 1495.0,1452.4 1496.5,1442.7 1498.0,1448.8 1499.5,1443.4 1501.0,1449.2 1502.5,1445.6 1504.0,1450.6 1505.5,1447.0 1507.0,1444.0 1508.5,1446.5 1510.0,1451.4 1511.5,1447.3 1513.0,1447.3 1514.5,1448.8 1516.0,1451.5 1517.5,1448.7 1519.0,1450.2 1520.5,1446.4 1522.0,1456.2 1523.5,1450.2 1525.0,1447.1 1526.5,1450.3 1528.0,1453.2 1529.5,1453.0 1531.0,1453.4 1532.5,1449.5 1534.0,1453.7 1535.5,1446.2 1537.0,1455.1 1538.5,1449.7 1540.0,1453.9 1541.5,1448.8 1543.0,1455.9 1544.5,1448.1 1546.0,1454.4 1547.5,1450.3 1549.0,1452.0 1550.5,1448.1 1552.0,1449.4 1553.5,1447.9 1555.0,1453.4 1556.5,1448.2 1558.0,1457.3 1559.5,1448.3 1561.0,1453.1 1562.5,1448.7 1564.0,1451.9 1565.5,1444.9 1567.0,1451.4 1568.5,1452.4 1570.0,1449.6 1571.5,1447.0 1573.0,1450.8 1574.5,1446.4 1576.0,1452.7 1577.5,1453.9 1579.0,1449.0 1580.5,1442.3 1582.0,1449.6 1583.5,1443.3 1585.0,1444.7 1586.5,1442.1 1588.0,1449.3 1589.5,1444.4 1591.0,1439.7 1592.5,1442.5 1594.0,1451.0 1595.5,1442.8 1597.0,1442.2 1598.5,1445.7 1600.0,1444.2 1601.5,1439.8 1603.0,1436.1 1604.5,1437.0 1606.0,1439.6 1607.5,1432.3 1609.0,1440.3 1610.5,1437.1 1612.0,1433.9 1613.5,1434.5 1615.0,1440.9 1616.5,1439.1 1618.0,1439.5 1619.5,1438.6 1621.0,1438.1 1622.5,1432.0 1624.0,1436.9 1625.5,1429.8 1627.0,1437.6 1628.5,1431.7 1630.0,1433.0 1631.5,1426.1 1633.0,1433.1 1634.5,1427.6 1636.0,1431.4 1637.5,1433.6 1639.0,1432.3 1640.5,1426.3 1642.0,1426.3 1643.5,1425.1 1645.0,1428.2 1646.5,1424.0 1648.0,1427.0 1649.5,1423.7 1651.0,1419.5 1652.5,1421.8 1654.0,1428.1 1655.5,1419.6 1657.0,1423.9 1658.5,1420.0 1660.0,1422.9 1661.5,1416.5 1663.0,1422.6 1664.5,1415.9 1666.0,1414.5 1667.5,1415.3 1669.0,1416.8 1670.5,1411.0 1672.0,1414.8 1673.5,1411.0 1675.0,1414.3 1676.5,1405.1 1678.0,1411.5 1679.5,1404.3 1681.0,1408.4 1682.5,1402.0 1684.0,1404.5 1685.5,1397.8 1687.0,1403.1 1688.5,1396.4 1690.0,1398.0 1691.5,1390.8 1693.0,1394.5 1694.5,1387.5 1696.0,1390.5 1697.5,1382.2 1699.0,1384.5 1700.5,1376.6 1702.0,1381.2 1703.5,1371.8 1705.0,1377.5 1706.5,1363.0 1708.0,1366.4 1709.5,1358.9 1711.0,1358.2 1712.5,1350.6 1714.0,1349.7 1715.5,1341.0 1717.0,1337.3 1718.5,1326.4 1720.0,1322.3 1721.5,1319.1 1723.0,1314.2 1724.5,1308.6 1726.0,1296.4 1727.5,1284.6 1729.0,1278.5 1730.5,1262.5 1732.0,1256.1 1733.5,1249.1 1735.0,1248.7 1736.5,1246.3 1738.0,1249.6 1739.5,1252.2 1741.0,1257.4 1742.5,1258.4 1744.0,1260.2 1745.5,1264.6 1747.0,1263.1 1748.5,1271.6 1750.0,1277.9 1751.5,1276.3 1753.0,1279.3 1754.5,1285.4 1756.0,1291.9 1757.5,1297.2 1759.0,1301.5 1760.5,1302.7 1762.0,1312.1 1763.5,1307.0 1765.0,1317.9 1766.5,1318.2 1768.0,1327.0 1769.5,1326.0 1771.0,1336.1 1772.5,1334.0 1774.0,1334.5 1775.5,1341.4 1777.0,1348.6 1778.5,1346.0 1780.0,1351.9 1781.5,1348.9 1783.0,1355.9 1784.5,1354.7 1786.0,1358.4 1787.5,1360.6 1789.0,1362.5 1790.5,1361.3 1792.0,1366.4 1793.5,1362.6 1795.0,1367.8 1796.5,1362.9 1798.0,1364.9 1799.5,1367.0 1801.0,1370.9 1802.5,1371.2 1804.0,1374.8 1805.5,1368.7 1807.0,1371.1 1808.5,1365.2 1810.0,1371.4 1811.5,1367.1 1813.0,1370.2 1814.5,1367.5 1816.0,1370.8 1817.5,1371.1 1819.0,1368.9 1820.5,1364.7 1822.0,1373.3 1823.5,1360.8 1825.0,1368.3 1826.5,1364.8 1828.0,1367.8 1829.5,1367.8 1831.0,1365.5 1832.5,1358.3 1834.0,1359.8 1835.5,1363.3 1837.0,1359.0 1838.5,1354.8 1840.0,1356.8 1841.5,1355.9 1843.0,1349.6 1844.5,1340.5 1846.0,1341.4 1847.5,1336.9 1849.0,1335.6 1850.5,1327.2 1852.0,1322.6 1853.5,1310.9 1855.0,1312.3 1856.5,1299.9 1858.0,1296.7 1859.5,1284.4 1861.0,1285.1 1862.5,1273.9 1864.0,1269.3 1865.5,1263.6 1867.0,1262.5 1868.5,1255.4 1870.0,1259.9 1871.5,1256.8 1873.0,1265.0 1874.5,1262.4 1876.0,1271.5 1877.5,1269.7 1879.0,1275.1 1880.5,1281.6 1882.0,1292.0 1883.5,1295.7 1885.0,1299.4 1886.5,1298.6 1888.0,1307.5 1889.5,1312.3 1891.0,1311.6 1892.5,1319.4 1894.0,1328.6 1895.5,1331.1 1897.0,1334.1 1898.5,1336.4 1900.0,1337.3 1901.5,1335.2 1903.0,1334.9 1904.5,1338.7 1906.0,1342.4 1907.5,1343.5 1909.0,1341.1 1910.5,1336.9 1912.0,1342.6 1913.5,1337.8 1915.0,1346.0 1916.5,1346.6 1918.0,1346.9 1919.5,1341.6 1921.0,1345.5 1922.5,1340.8 1924.0,1345.9 1925.5,1341.6 1927.0,1341.5 1928.5,1341.0 1930.0,1350.6 1931.5,1342.0 1933.0,1346.8 1934.5,1339.7 1936.0,1350.2 1937.5,1335.4 1939.0,1349.7 1940.5,1340.6 1942.0,1345.3 1943.5,1346.9 1945.0,1346.0 1946.5,1339.0 1948.0,1345.2 1949.5,1336.0 1951.0,1344.9 1952.5,1336.7 1954.0,1341.4 1955.5,1333.0 1957.0,1339.4 1958.5,1336.5 1960.0,1338.5 1961.5,1345.7 1963.0,1339.2 1964.5,1332.4 1966.0,1341.0 1967.5,1335.9 1969.0,1337.1 1970.5,1333.6 1972.0,1337.8 1973.5,1343.1 1975.0,1342.2 1976.5,1338.9 1978.0,1344.1 1979.5,1347.4 1981.0,1344.2 1982.5,1344.9 1984.0,1347.7 1985.5,1343.4 1987.0,1347.7 1988.5,1344.4 1990.0,1349.0 1991.5,1343.2 1993.0,1353.5 1994.5,1345.6 1996.0,1349.4 1997.5,1348.2 1999.0,1351.7 2000.5,1349.2 2002.0,1344.8 2003.5,1353.5 2005.0,1351.4 2006.5,1349.9 2008.0,1353.0 2009.5,1353.2 2011.0,1357.6 2012.5,1355.7 2014.0,1360.0 2015.5,1358.5 2017.0,1361.9 2018.5,1360.8 2020.0,1366.3 2021.5,1362.3 2023.0,1367.3 2024.5,1360.3 2026.0,1367.1 2027.5,1362.0 2029.0,1370.7 2030.5,1369.7 2032.0,1372.9 2033.5,1364.3 2035.0,1369.5 2036.5,1366.5 2038.0,1366.7 2039.5,1368.0 2041.0,1372.8 2042.5,1367.0 2044.0,1373.3 2045.5,1366.7 2047.0,1371.6 2048.5,1365.2 2050.0,1371.9 2051.5,1368.4 2053.0,1367.9 2054.5,1368.2 2056.0,1372.4 2057.5,1370.9 2059.0,1375.3 2060.5,1366.7 2062.0,1371.8 2063.5,1368.9 2065.0,1374.5 2066.5,1368.7 2068.0,1380.5 2069.5,1372.4 2071.0,1379.6 2072.5,1373.4 2074.0,1376.8 2075.5,1377.9 2077.0,1378.1 2078.5,1374.1 2080.0,1378.9 2081.5,1375.0 2083.0,1382.5 2084.5,1377.2 2086.0,1377.4 2086.6,1377.7" fill="none" stroke="#880000" stroke-width="9.5" stroke-linejoin="round" stroke-linecap="round"/>
<polyline points="229.0,2577.4 230.5,2572.0 232.0,2570.8 233.5,2572.1 235.0,2579.5 236.5,2570.8 238.0,2576.6 239.5,2572.8 241.0,2572.1 242.5,2571.1 244.0,2576.9 245.5,2567.8 247.0,2575.8 248.5,2571.7 250.0,2567.1 251.5,2569.9 253.0,2576.0 254.5,2571.8 256.0,2579.0 257.5,2567.6 259.0,2574.8 260.5,2574.6 262.0,2577.7 263.5,2570.0 265.0,2570.2 266.5,2568.6 268.0,2577.5 269.5,2577.7 271.0,2573.1 272.5,2573.5 274.0,2573.3 275.5,2564.8 277.0,2575.3 278.5,2573.3 280.0,2571.3 281.5,2567.5 283.0,2571.5 284.5,2565.2 286.0,2572.4 287.5,2563.7 289.0,2564.4 290.5,2561.8 292.0,2572.1 293.5,2569.3 295.0,2568.7 296.5,2567.9 298.0,2559.7 299.5,2558.3 301.0,2559.2 302.5,2556.3 304.0,2562.1 305.5,2555.8 307.0,2561.8 308.5,2553.0 310.0,2552.2 311.5,2549.2 313.0,2557.2 314.5,2549.1 316.0,2557.8 317.5,2547.6 319.0,2556.1 320.5,2549.8 322.0,2542.6 323.5,2546.1 325.0,2554.0 326.5,2546.1 328.0,2545.6 329.5,2545.5 331.0,2540.5 332.5,2541.5 334.0,2548.7 335.5,2547.7 337.0,2541.6 338.5,2541.1 340.0,2546.5 341.5,2541.4 343.0,2544.4 344.5,2537.2 346.0,2543.9 347.5,2538.0 349.0,2544.0 350.5,2537.3 352.0,2540.3 353.5,2540.2 355.0,2533.5 356.5,2539.9 358.0,2538.5 359.5,2528.9 361.0,2532.3 362.5,2530.4 364.0,2538.0 365.5,2531.0 367.0,2536.9 368.5,2525.9 370.0,2534.5 371.5,2526.1 373.0,2533.5 374.5,2524.1 376.0,2534.2 377.5,2524.9 379.0,2529.7 380.5,2524.7 382.0,2525.4 383.5,2523.9 385.0,2530.9 386.5,2519.1 388.0,2528.4 389.5,2520.0 391.0,2528.8 392.5,2521.7 394.0,2523.0 395.5,2521.8 397.0,2529.3 398.5,2522.1 400.0,2526.4 401.5,2518.5 403.0,2526.0 404.5,2528.1 406.0,2525.4 407.5,2526.2 409.0,2527.0 410.5,2519.6 412.0,2524.6 413.5,2524.7 415.0,2525.0 416.5,2517.7 418.0,2526.3 419.5,2520.5 421.0,2524.2 422.5,2516.7 424.0,2527.6 425.5,2519.0 427.0,2525.5 428.5,2516.8 430.0,2524.3 431.5,2519.5 433.0,2525.7 434.5,2519.7 436.0,2524.6 437.5,2515.5 439.0,2525.8 440.5,2518.3 442.0,2530.0 443.5,2517.1 445.0,2519.3 446.5,2518.0 448.0,2528.9 449.5,2515.1 451.0,2522.4 452.5,2515.3 454.0,2524.8 455.5,2517.2 457.0,2524.2 458.5,2517.2 460.0,2522.4 461.5,2517.1 463.0,2517.9 464.5,2514.6 466.0,2524.4 467.5,2515.3 469.0,2523.6 470.5,2516.0 472.0,2520.7 473.5,2515.5 475.0,2519.5 476.5,2513.4 478.0,2522.8 479.5,2513.6 481.0,2518.6 482.5,2517.1 484.0,2520.0 485.5,2508.1 487.0,2516.3 488.5,2509.8 490.0,2510.8 491.5,2507.8 493.0,2511.5 494.5,2503.9 496.0,2508.2 497.5,2504.4 499.0,2505.0 500.5,2493.5 502.0,2497.3 503.5,2489.2 505.0,2494.5 506.5,2488.1 508.0,2495.4 509.5,2484.2 511.0,2490.3 512.5,2483.8 514.0,2487.6 515.5,2481.6 517.0,2481.6 518.5,2480.2 520.0,2487.6 521.5,2477.0 523.0,2486.2 524.5,2483.3 526.0,2489.2 527.5,2485.9 529.0,2492.9 530.5,2488.2 532.0,2496.1 533.5,2494.5 535.0,2502.1 536.5,2498.1 538.0,2505.6 539.5,2505.1 541.0,2513.3 542.5,2509.9 544.0,2517.3 545.5,2521.2 547.0,2516.7 548.5,2516.5 550.0,2527.5 551.5,2514.9 553.0,2521.0 554.5,2519.1 556.0,2527.1 557.5,2521.1 559.0,2528.9 560.5,2522.8 562.0,2530.0 563.5,2524.6 565.0,2529.2 566.5,2525.3 568.0,2525.1 569.5,2523.6 571.0,2531.2 572.5,2525.4 574.0,2534.3 575.5,2525.6 577.0,2531.5 578.5,2526.7 580.0,2531.6 581.5,2526.2 583.0,2534.3 584.5,2531.9 586.0,2534.4 587.5,2524.3 589.0,2526.3 590.5,2529.4 592.0,2534.2 593.5,2529.4 595.0,2534.4 596.5,2528.1 598.0,2533.2 599.5,2530.0 601.0,2535.6 602.5,2527.3 604.0,2533.9 605.5,2529.8 607.0,2535.0 608.5,2529.8 610.0,2534.0 611.5,2529.4 613.0,2536.7 614.5,2524.1 616.0,2538.5 617.5,2529.6 619.0,2525.5 620.5,2529.7 622.0,2534.1 623.5,2527.8 625.0,2533.2 626.5,2525.4 628.0,2533.9 629.5,2524.9 631.0,2532.3 632.5,2524.8 634.0,2531.6 635.5,2531.2 637.0,2523.5 638.5,2523.2 640.0,2530.1 641.5,2519.6 643.0,2528.6 644.5,2523.0 646.0,2529.3 647.5,2527.7 649.0,2528.5 650.5,2523.2 652.0,2531.6 653.5,2521.8 655.0,2526.5 656.5,2517.2 658.0,2519.0 659.5,2520.6 661.0,2523.8 662.5,2516.3 664.0,2517.6 665.5,2517.2 667.0,2521.4 668.5,2515.6 670.0,2522.6 671.5,2514.0 673.0,2521.1 674.5,2522.4 676.0,2520.9 677.5,2520.0 679.0,2520.6 680.5,2516.3 682.0,2527.4 683.5,2521.8 685.0,2522.3 686.5,2516.2 688.0,2516.3 689.5,2517.9 691.0,2524.1 692.5,2517.7 694.0,2521.9 695.5,2515.7 697.0,2520.7 698.5,2515.0 700.0,2523.3 701.5,2513.1 703.0,2517.2 704.5,2509.2 706.0,2519.3 707.5,2505.6 709.0,2511.6 710.5,2504.3 712.0,2506.5 713.5,2499.5 715.0,2505.9 716.5,2494.6 718.0,2499.1 719.5,2488.6 721.0,2496.0 722.5,2481.5 724.0,2484.8 725.5,2471.0 727.0,2480.1 728.5,2465.8 730.0,2467.6 731.5,2456.3 733.0,2460.1 734.5,2449.7 736.0,2451.9 737.5,2440.9 739.0,2444.7 740.5,2433.3 742.0,2432.0 743.5,2422.4 745.0,2421.5 746.5,2410.0 748.0,2408.3 749.5,2395.5 751.0,2392.8 752.5,2375.6 754.0,2375.1 755.5,2356.7 757.0,2352.3 758.5,2331.3 760.0,2313.8 761.5,2292.0 763.0,2274.4 764.5,2241.4 766.0,2218.7 767.5,2197.4 769.0,2175.3 770.5,2137.4 772.0,2104.8 773.5,2069.4 775.0,2042.1 776.5,2001.3 778.0,1966.7 779.5,1917.8 781.0,1892.1 782.5,1872.1 784.0,1866.9 785.5,1849.2 787.0,1838.7 788.5,1824.9 790.0,1829.8 791.5,1824.8 793.0,1837.8 794.5,1845.7 796.0,1866.9 797.5,1916.3 799.0,1979.9 800.5,2041.8 802.0,2086.8 803.5,2136.4 805.0,2209.1 806.5,2251.4 808.0,2287.3 809.5,2318.5 811.0,2342.2 812.5,2352.4 814.0,2383.9 815.5,2394.3 817.0,2417.1 818.5,2420.4 820.0,2443.3 821.5,2446.4 823.0,2461.8 824.5,2473.3 826.0,2479.7 827.5,2488.5 829.0,2497.2 830.5,2496.6 832.0,2507.9 833.5,2503.7 835.0,2505.5 836.5,2508.1 838.0,2519.3 839.5,2509.4 841.0,2523.1 842.5,2519.1 844.0,2528.0 845.5,2523.6 847.0,2530.5 848.5,2526.4 850.0,2533.3 851.5,2525.2 853.0,2536.3 854.5,2527.9 856.0,2537.1 857.5,2540.8 859.0,2539.5 860.5,2532.2 862.0,2540.6 863.5,2537.1 865.0,2544.9 866.5,2537.4 868.0,2543.3 869.5,2539.0 871.0,2544.4 872.5,2540.5 874.0,2547.4 875.5,2541.8 877.0,2547.3 878.5,2548.3 880.0,2550.2 881.5,2542.6 883.0,2548.5 884.5,2545.6 886.0,2540.2 887.5,2542.7 889.0,2552.5 890.5,2545.9 892.0,2553.4 893.5,2547.0 895.0,2551.5 896.5,2552.0 898.0,2556.5 899.5,2545.0 901.0,2552.2 902.5,2547.0 904.0,2553.1 905.5,2548.3 907.0,2553.0 908.5,2547.6 910.0,2553.4 911.5,2551.4 913.0,2555.8 914.5,2542.9 916.0,2546.2 917.5,2545.0 919.0,2551.0 920.5,2551.3 922.0,2554.6 923.5,2544.1 925.0,2554.8 926.5,2551.2 928.0,2550.4 929.5,2544.7 931.0,2553.4 932.5,2551.6 934.0,2551.8 935.5,2545.9 937.0,2554.0 938.5,2544.6 940.0,2550.6 941.5,2546.2 943.0,2552.4 944.5,2549.6 946.0,2551.1 947.5,2546.2 949.0,2552.3 950.5,2544.0 952.0,2551.2 953.5,2540.1 955.0,2551.1 956.5,2545.8 958.0,2544.4 959.5,2540.6 961.0,2546.6 962.5,2543.5 964.0,2551.7 965.5,2546.3 967.0,2550.9 968.5,2544.3 970.0,2553.0 971.5,2545.4 973.0,2550.6 974.5,2546.2 976.0,2552.0 977.5,2546.7 979.0,2553.2 980.5,2547.2 982.0,2555.0 983.5,2547.0 985.0,2547.5 986.5,2548.3 988.0,2553.7 989.5,2545.7 991.0,2554.6 992.5,2546.4 994.0,2552.7 995.5,2558.2 997.0,2546.8 998.5,2548.2 1000.0,2556.2 1001.5,2547.7 1003.0,2555.6 1004.5,2549.1 1006.0,2553.4 1007.5,2554.0 1009.0,2555.4 1010.5,2550.1 1012.0,2554.6 1013.5,2545.0 1015.0,2555.6 1016.5,2550.5 1018.0,2551.4 1019.5,2551.7 1021.0,2558.5 1022.5,2550.0 1024.0,2559.0 1025.5,2548.8 1027.0,2551.0 1028.5,2550.2 1030.0,2559.5 1031.5,2550.3 1033.0,2559.6 1034.5,2552.2 1036.0,2560.3 1037.5,2552.1 1039.0,2552.6 1040.5,2551.7 1042.0,2552.1 1043.5,2551.5 1045.0,2548.2 1046.5,2552.6 1048.0,2559.3 1049.5,2552.2 1051.0,2561.0 1052.5,2559.2 1054.0,2556.6 1055.5,2557.9 1057.0,2560.5 1058.5,2552.9 1060.0,2556.7 1061.5,2549.8 1063.0,2555.9 1064.5,2551.9 1066.0,2547.0 1067.5,2549.2 1069.0,2558.1 1070.5,2546.5 1072.0,2557.4 1073.5,2551.9 1075.0,2554.8 1076.5,2548.3 1078.0,2556.7 1079.5,2548.9 1081.0,2555.5 1082.5,2550.2 1084.0,2557.4 1085.5,2555.0 1087.0,2557.4 1088.5,2549.7 1090.0,2554.5 1091.5,2555.2 1093.0,2556.6 1094.5,2548.9 1096.0,2555.3 1097.5,2555.9 1099.0,2553.6 1100.5,2554.8 1102.0,2553.5 1103.5,2549.6 1105.0,2556.6 1106.5,2548.3 1108.0,2553.2 1109.5,2546.8 1111.0,2555.0 1112.5,2543.8 1114.0,2553.3 1115.5,2547.6 1117.0,2555.3 1118.5,2546.2 1120.0,2559.7 1121.5,2548.5 1123.0,2548.1 1124.5,2547.8 1126.0,2553.4 1127.5,2546.4 1129.0,2552.5 1130.5,2549.0 1132.0,2552.3 1133.5,2548.9 1135.0,2552.1 1136.5,2546.3 1138.0,2552.7 1139.5,2546.9 1141.0,2552.6 1142.5,2547.3 1144.0,2555.4 1145.5,2543.0 1147.0,2554.7 1148.5,2547.4 1150.0,2552.6 1151.5,2546.0 1153.0,2556.9 1154.5,2544.3 1156.0,2550.4 1157.5,2544.3 1159.0,2552.0 1160.5,2543.2 1162.0,2550.9 1163.5,2543.6 1165.0,2550.4 1166.5,2541.7 1168.0,2548.3 1169.5,2538.0 1171.0,2546.1 1172.5,2539.2 1174.0,2545.0 1175.5,2534.5 1177.0,2542.5 1178.5,2535.9 1180.0,2538.6 1181.5,2531.2 1183.0,2535.7 1184.5,2528.0 1186.0,2533.0 1187.5,2525.3 1189.0,2529.6 1190.5,2521.1 1192.0,2526.8 1193.5,2517.5 1195.0,2522.7 1196.5,2508.9 1198.0,2509.2 1199.5,2505.3 1201.0,2512.0 1202.5,2506.0 1204.0,2511.4 1205.5,2505.4 1207.0,2511.6 1208.5,2506.6 1210.0,2517.0 1211.5,2508.9 1213.0,2510.8 1214.5,2511.5 1216.0,2512.6 1217.5,2510.9 1219.0,2519.0 1220.5,2510.5 1222.0,2518.2 1223.5,2508.3 1225.0,2510.5 1226.5,2501.7 1228.0,2504.9 1229.5,2498.5 1231.0,2494.2 1232.5,2496.2 1234.0,2492.0 1235.5,2482.4 1237.0,2487.3 1238.5,2478.1 1240.0,2490.4 1241.5,2481.3 1243.0,2489.1 1244.5,2486.4 1246.0,2493.8 1247.5,2489.8 1249.0,2501.7 1250.5,2497.0 1252.0,2498.7 1253.5,2500.1 1255.0,2511.6 1256.5,2516.2 1258.0,2521.8 1259.5,2512.9 1261.0,2527.8 1262.5,2527.7 1264.0,2522.4 1265.5,2522.5 1267.0,2530.6 1268.5,2523.2 1270.0,2527.7 1271.5,2523.3 1273.0,2527.6 1274.5,2520.7 1276.0,2531.9 1277.5,2524.1 1279.0,2532.6 1280.5,2524.9 1282.0,2530.6 1283.5,2523.0 1285.0,2532.4 1286.5,2529.8 1288.0,2536.2 1289.5,2532.7 1291.0,2540.1 1292.5,2538.1 1294.0,2548.2 1295.5,2540.5 1297.0,2547.1 1298.5,2540.4 1300.0,2548.4 1301.5,2543.6 1303.0,2549.5 1304.5,2546.3 1306.0,2552.8 1307.5,2546.7 1309.0,2548.2 1310.5,2548.6 1312.0,2555.5 1313.5,2547.0 1315.0,2552.5 1316.5,2546.1 1318.0,2548.6 1319.5,2546.8 1321.0,2553.4 1322.5,2542.7 1324.0,2552.5 1325.5,2553.2 1327.0,2548.1 1328.5,2543.4 1330.0,2548.0 1331.5,2541.2 1333.0,2536.5 1334.5,2537.5 1336.0,2545.4 1337.5,2536.6 1339.0,2545.6 1340.5,2532.0 1342.0,2534.5 1343.5,2533.2 1345.0,2539.8 1346.5,2535.7 1348.0,2534.0 1349.5,2527.7 1351.0,2532.2 1352.5,2524.9 1354.0,2533.5 1355.5,2523.1 1357.0,2520.0 1358.5,2521.6 1360.0,2527.0 1361.5,2525.7 1363.0,2520.4 1364.5,2517.6 1366.0,2524.2 1367.5,2523.1 1369.0,2526.0 1370.5,2526.0 1372.0,2524.7 1373.5,2512.3 1375.0,2521.3 1376.5,2521.4 1378.0,2521.8 1379.5,2511.4 1381.0,2523.3 1382.5,2511.4 1384.0,2519.2 1385.5,2513.2 1387.0,2520.1 1388.5,2517.4 1390.0,2517.3 1391.5,2512.1 1393.0,2520.2 1394.5,2513.5 1396.0,2517.0 1397.5,2512.5 1399.0,2520.2 1400.5,2513.6 1402.0,2521.5 1403.5,2513.8 1405.0,2512.2 1406.5,2512.9 1408.0,2522.7 1409.5,2517.3 1411.0,2521.8 1412.5,2524.6 1414.0,2524.0 1415.5,2518.5 1417.0,2525.5 1418.5,2520.2 1420.0,2525.4 1421.5,2519.8 1423.0,2525.5 1424.5,2516.3 1426.0,2525.7 1427.5,2518.9 1429.0,2524.7 1430.5,2516.6 1432.0,2525.6 1433.5,2515.9 1435.0,2519.6 1436.5,2514.4 1438.0,2518.6 1439.5,2511.9 1441.0,2515.3 1442.5,2510.5 1444.0,2515.4 1445.5,2505.8 1447.0,2502.7 1448.5,2500.5 1450.0,2508.4 1451.5,2499.5 1453.0,2494.6 1454.5,2494.6 1456.0,2499.4 1457.5,2487.6 1459.0,2492.8 1460.5,2485.0 1462.0,2486.3 1463.5,2480.0 1465.0,2485.0 1466.5,2477.1 1468.0,2483.5 1469.5,2476.8 1471.0,2482.7 1472.5,2477.5 1474.0,2486.1 1475.5,2482.7 1477.0,2492.5 1478.5,2486.6 1480.0,2494.2 1481.5,2487.2 1483.0,2498.4 1484.5,2495.7 1486.0,2502.8 1487.5,2499.1 1489.0,2505.5 1490.5,2503.4 1492.0,2512.0 1493.5,2514.5 1495.0,2515.7 1496.5,2511.5 1498.0,2520.1 1499.5,2518.1 1501.0,2524.2 1502.5,2519.9 1504.0,2531.2 1505.5,2521.8 1507.0,2529.5 1508.5,2521.8 1510.0,2530.6 1511.5,2526.4 1513.0,2526.5 1514.5,2526.4 1516.0,2534.9 1517.5,2536.7 1519.0,2534.8 1520.5,2526.0 1522.0,2537.1 1523.5,2527.5 1525.0,2535.3 1526.5,2528.6 1528.0,2536.8 1529.5,2531.1 1531.0,2537.0 1532.5,2532.6 1534.0,2529.6 1535.5,2533.0 1537.0,2538.6 1538.5,2532.9 1540.0,2540.0 1541.5,2529.8 1543.0,2530.3 1544.5,2539.2 1546.0,2538.9 1547.5,2530.6 1549.0,2533.4 1550.5,2531.9 1552.0,2543.5 1553.5,2534.9 1555.0,2539.7 1556.5,2534.4 1558.0,2543.3 1559.5,2535.8 1561.0,2543.3 1562.5,2533.5 1564.0,2534.4 1565.5,2536.2 1567.0,2542.3 1568.5,2537.0 1570.0,2544.3 1571.5,2536.8 1573.0,2541.6 1574.5,2537.2 1576.0,2544.4 1577.5,2536.9 1579.0,2535.9 1580.5,2536.7 1582.0,2545.3 1583.5,2542.7 1585.0,2541.8 1586.5,2541.7 1588.0,2536.6 1589.5,2537.5 1591.0,2542.8 1592.5,2537.4 1594.0,2536.3 1595.5,2541.2 1597.0,2541.6 1598.5,2531.5 1600.0,2543.7 1601.5,2535.6 1603.0,2541.2 1604.5,2540.3 1606.0,2540.4 1607.5,2532.5 1609.0,2539.8 1610.5,2532.4 1612.0,2541.0 1613.5,2532.2 1615.0,2539.4 1616.5,2533.8 1618.0,2539.7 1619.5,2530.2 1621.0,2536.5 1622.5,2538.7 1624.0,2540.8 1625.5,2528.9 1627.0,2539.0 1628.5,2530.6 1630.0,2536.5 1631.5,2523.4 1633.0,2534.0 1634.5,2529.9 1636.0,2534.0 1637.5,2528.3 1639.0,2525.9 1640.5,2527.3 1642.0,2533.7 1643.5,2523.0 1645.0,2532.0 1646.5,2526.2 1648.0,2534.3 1649.5,2524.0 1651.0,2530.5 1652.5,2524.7 1654.0,2531.4 1655.5,2521.3 1657.0,2528.4 1658.5,2523.8 1660.0,2528.4 1661.5,2520.6 1663.0,2520.7 1664.5,2519.0 1666.0,2527.7 1667.5,2517.7 1669.0,2515.7 1670.5,2513.3 1672.0,2518.4 1673.5,2513.2 1675.0,2519.4 1676.5,2509.5 1678.0,2512.7 1679.5,2506.2 1681.0,2502.2 1682.5,2498.6 1684.0,2505.1 1685.5,2505.2 1687.0,2493.2 1688.5,2493.0 1690.0,2497.2 1691.5,2494.0 1693.0,2490.4 1694.5,2478.2 1696.0,2472.3 1697.5,2472.0 1699.0,2472.8 1700.5,2458.5 1702.0,2462.2 1703.5,2447.4 1705.0,2451.0 1706.5,2445.9 1708.0,2440.3 1709.5,2419.8 1711.0,2417.5 1712.5,2401.6 1714.0,2395.0 1715.5,2380.0 1717.0,2362.5 1718.5,2336.0 1720.0,2320.5 1721.5,2294.3 1723.0,2267.9 1724.5,2229.2 1726.0,2201.8 1727.5,2161.5 1729.0,2125.5 1730.5,2084.1 1732.0,2047.6 1733.5,2001.9 1735.0,1974.2 1736.5,1909.2 1738.0,1860.4 1739.5,1833.7 1741.0,1811.5 1742.5,1804.3 1744.0,1816.5 1745.5,1829.7 1747.0,1858.3 1748.5,1887.3 1750.0,1917.8 1751.5,1941.0 1753.0,1982.0 1754.5,2008.0 1756.0,2060.4 1757.5,2111.6 1759.0,2171.2 1760.5,2207.6 1762.0,2246.7 1763.5,2276.4 1765.0,2301.2 1766.5,2314.8 1768.0,2339.4 1769.5,2351.0 1771.0,2372.4 1772.5,2382.2 1774.0,2408.0 1775.5,2409.6 1777.0,2430.5 1778.5,2431.2 1780.0,2445.2 1781.5,2442.6 1783.0,2460.2 1784.5,2458.4 1786.0,2465.5 1787.5,2466.9 1789.0,2469.6 1790.5,2467.1 1792.0,2468.9 1793.5,2469.0 1795.0,2478.5 1796.5,2475.0 1798.0,2483.7 1799.5,2484.2 1801.0,2486.8 1802.5,2478.0 1804.0,2487.1 1805.5,2484.4 1807.0,2492.0 1808.5,2484.2 1810.0,2493.6 1811.5,2488.2 1813.0,2493.3 1814.5,2498.4 1816.0,2500.0 1817.5,2490.8 1819.0,2497.7 1820.5,2493.6 1822.0,2498.8 1823.5,2490.5 1825.0,2502.6 1826.5,2496.7 1828.0,2505.4 1829.5,2504.1 1831.0,2502.1 1832.5,2497.0 1834.0,2502.0 1835.5,2497.0 1837.0,2495.5 1838.5,2495.1 1840.0,2494.5 1841.5,2491.6 1843.0,2489.4 1844.5,2490.8 1846.0,2495.0 1847.5,2486.7 1849.0,2491.0 1850.5,2484.5 1852.0,2477.9 1853.5,2476.3 1855.0,2476.9 1856.5,2473.0 1858.0,2475.7 1859.5,2472.3 1861.0,2468.9 1862.5,2457.3 1864.0,2455.1 1865.5,2448.8 1867.0,2453.0 1868.5,2438.3 1870.0,2434.6 1871.5,2428.7 1873.0,2430.3 1874.5,2417.0 1876.0,2418.5 1877.5,2408.6 1879.0,2407.4 1880.5,2403.6 1882.0,2415.3 1883.5,2410.7 1885.0,2423.5 1886.5,2419.2 1888.0,2428.8 1889.5,2428.5 1891.0,2440.7 1892.5,2442.0 1894.0,2456.8 1895.5,2454.5 1897.0,2468.3 1898.5,2469.6 1900.0,2483.3 1901.5,2490.7 1903.0,2496.9 1904.5,2493.9 1906.0,2506.1 1907.5,2501.9 1909.0,2513.9 1910.5,2509.8 1912.0,2520.1 1913.5,2508.5 1915.0,2519.3 1916.5,2508.5 1918.0,2519.7 1919.5,2514.1 1921.0,2514.1 1922.5,2507.9 1924.0,2512.5 1925.5,2512.5 1927.0,2520.5 1928.5,2523.9 1930.0,2521.6 1931.5,2514.2 1933.0,2521.2 1934.5,2515.4 1936.0,2519.2 1937.5,2513.6 1939.0,2520.7 1940.5,2515.0 1942.0,2523.3 1943.5,2522.5 1945.0,2523.5 1946.5,2517.1 1948.0,2526.1 1949.5,2515.1 1951.0,2526.0 1952.5,2519.8 1954.0,2521.5 1955.5,2522.8 1957.0,2527.1 1958.5,2521.0 1960.0,2527.3 1961.5,2519.9 1963.0,2528.2 1964.5,2519.9 1966.0,2529.4 1967.5,2520.6 1969.0,2523.3 1970.5,2521.5 1972.0,2531.7 1973.5,2519.5 1975.0,2527.0 1976.5,2521.3 1978.0,2528.4 1979.5,2522.3 1981.0,2527.0 1982.5,2518.1 1984.0,2526.4 1985.5,2521.9 1987.0,2522.2 1988.5,2521.7 1990.0,2532.4 1991.5,2529.0 1993.0,2530.7 1994.5,2522.8 1996.0,2530.2 1997.5,2524.3 1999.0,2529.6 2000.5,2526.8 2002.0,2531.1 2003.5,2527.0 2005.0,2534.6 2006.5,2528.1 2008.0,2523.1 2009.5,2529.1 2011.0,2528.6 2012.5,2530.4 2014.0,2530.0 2015.5,2529.0 2017.0,2540.2 2018.5,2534.7 2020.0,2540.4 2021.5,2535.7 2023.0,2535.9 2024.5,2536.7 2026.0,2542.8 2027.5,2536.9 2029.0,2543.1 2030.5,2534.2 2032.0,2545.8 2033.5,2539.6 2035.0,2537.4 2036.5,2533.9 2038.0,2537.1 2039.5,2545.4 2041.0,2546.0 2042.5,2540.4 2044.0,2546.5 2045.5,2539.2 2047.0,2541.2 2048.5,2542.4 2050.0,2548.5 2051.5,2547.7 2053.0,2550.4 2054.5,2539.7 2056.0,2548.0 2057.5,2544.9 2059.0,2550.3 2060.5,2544.0 2062.0,2552.5 2063.5,2546.4 2065.0,2542.9 2066.5,2545.9 2068.0,2554.0 2069.5,2550.9 2071.0,2550.9 2072.5,2545.7 2074.0,2556.0 2075.5,2545.5 2077.0,2556.3 2078.5,2556.0 2080.0,2553.6 2081.5,2548.1 2083.0,2556.1 2084.5,2548.2 2086.0,2553.0 2086.7,2546.8" fill="none" stroke="#0a0ac0" stroke-width="8.5" stroke-linejoin="round" stroke-linecap="round"/>
<polyline points="222.0,3277.9 223.5,3275.5 225.0,3274.8 226.5,3275.3 228.0,3277.0 229.5,3274.1 231.0,3276.7 232.5,3274.2 234.0,3274.4 235.5,3272.8 237.0,3277.1 238.5,3274.2 240.0,3276.0 241.5,3272.0 243.0,3275.7 244.5,3273.0 246.0,3272.7 247.5,3273.8 249.0,3273.5 250.5,3271.4 252.0,3271.2 253.5,3274.0 255.0,3273.8 256.5,3269.7 258.0,3271.9 259.5,3269.3 261.0,3272.1 262.5,3271.9 264.0,3271.1 265.5,3268.1 267.0,3269.8 268.5,3265.7 270.0,3269.4 271.5,3265.1 273.0,3268.3 274.5,3268.1 276.0,3267.6 277.5,3264.7 279.0,3266.7 280.5,3263.6 282.0,3267.2 283.5,3262.8 285.0,3264.3 286.5,3262.2 288.0,3263.3 289.5,3260.7 291.0,3263.7 292.5,3261.5 294.0,3258.1 295.5,3256.6 297.0,3258.7 298.5,3255.7 300.0,3257.4 301.5,3253.7 303.0,3251.9 304.5,3252.2 306.0,3253.3 307.5,3248.0 309.0,3246.3 310.5,3243.6 312.0,3246.3 313.5,3241.3 315.0,3241.5 316.5,3238.6 318.0,3239.9 319.5,3233.4 321.0,3237.0 322.5,3231.8 324.0,3231.3 325.5,3234.2 327.0,3231.7 328.5,3230.0 330.0,3230.7 331.5,3230.9 333.0,3235.2 334.5,3233.3 336.0,3237.0 337.5,3236.4 339.0,3239.7 340.5,3236.3 342.0,3240.6 343.5,3238.7 345.0,3241.8 346.5,3240.7 348.0,3243.1 349.5,3241.1 351.0,3244.3 352.5,3242.1 354.0,3246.1 355.5,3243.5 357.0,3245.9 358.5,3244.2 360.0,3245.9 361.5,3242.7 363.0,3245.7 364.5,3243.0 366.0,3245.6 367.5,3243.5 369.0,3244.9 370.5,3242.3 372.0,3244.7 373.5,3240.9 375.0,3243.5 376.5,3240.6 378.0,3238.5 379.5,3240.0 381.0,3243.0 382.5,3241.7 384.0,3240.3 385.5,3238.1 387.0,3239.7 388.5,3237.3 390.0,3238.3 391.5,3242.3 393.0,3238.7 394.5,3239.0 396.0,3240.9 397.5,3238.1 399.0,3243.3 400.5,3243.3 402.0,3244.7 403.5,3242.2 405.0,3243.3 406.5,3242.4 408.0,3246.2 409.5,3244.3 411.0,3247.4 412.5,3244.3 414.0,3246.5 415.5,3244.9 417.0,3243.6 418.5,3248.1 420.0,3248.9 421.5,3246.7 423.0,3249.3 424.5,3247.3 426.0,3249.6 427.5,3245.0 429.0,3250.5 430.5,3250.0 432.0,3251.1 433.5,3250.8 435.0,3251.0 436.5,3248.9 438.0,3247.5 439.5,3247.8 441.0,3252.2 442.5,3251.1 444.0,3251.5 445.5,3248.0 447.0,3251.7 448.5,3248.0 450.0,3251.0 451.5,3247.5 453.0,3247.1 454.5,3248.3 456.0,3250.4 457.5,3248.1 459.0,3251.0 460.5,3247.6 462.0,3251.1 463.5,3248.0 465.0,3247.3 466.5,3247.2 468.0,3250.2 469.5,3247.7 471.0,3251.1 472.5,3248.4 474.0,3250.3 475.5,3250.7 477.0,3249.7 478.5,3250.9 480.0,3248.6 481.5,3244.6 483.0,3247.5 484.5,3243.6 486.0,3246.9 487.5,3242.7 489.0,3244.3 490.5,3240.1 492.0,3243.8 493.5,3240.1 495.0,3243.7 496.5,3238.8 498.0,3242.0 499.5,3237.5 501.0,3238.8 502.5,3236.3 504.0,3239.2 505.5,3233.4 507.0,3236.6 508.5,3231.7 510.0,3233.4 511.5,3230.2 513.0,3229.8 514.5,3229.2 516.0,3233.3 517.5,3227.4 519.0,3228.8 520.5,3225.8 522.0,3228.4 523.5,3224.2 525.0,3223.4 526.5,3222.7 528.0,3227.2 529.5,3225.9 531.0,3232.6 532.5,3232.6 534.0,3237.9 535.5,3240.2 537.0,3244.0 538.5,3244.2 540.0,3250.5 541.5,3255.7 543.0,3255.5 544.5,3253.6 546.0,3257.7 547.5,3255.3 549.0,3257.6 550.5,3256.1 552.0,3257.5 553.5,3255.3 555.0,3257.3 556.5,3254.4 558.0,3255.1 559.5,3253.1 561.0,3253.6 562.5,3254.3 564.0,3255.6 565.5,3252.0 567.0,3252.7 568.5,3251.7 570.0,3254.0 571.5,3251.4 573.0,3254.9 574.5,3252.5 576.0,3255.3 577.5,3259.3 579.0,3257.2 580.5,3255.7 582.0,3259.3 583.5,3260.8 585.0,3261.9 586.5,3259.3 588.0,3262.9 589.5,3263.0 591.0,3264.4 592.5,3262.9 594.0,3262.5 595.5,3264.6 597.0,3266.2 598.5,3264.3 600.0,3266.6 601.5,3268.0 603.0,3267.5 604.5,3263.4 606.0,3267.6 607.5,3264.5 609.0,3264.4 610.5,3262.8 612.0,3266.2 613.5,3262.7 615.0,3264.7 616.5,3260.6 618.0,3262.0 619.5,3264.5 621.0,3263.6 622.5,3260.6 624.0,3263.2 625.5,3261.7 627.0,3261.1 628.5,3261.8 630.0,3258.7 631.5,3259.9 633.0,3260.3 634.5,3256.8 636.0,3259.2 637.5,3259.8 639.0,3258.5 640.5,3255.6 642.0,3257.2 643.5,3255.1 645.0,3259.0 646.5,3254.7 648.0,3256.1 649.5,3252.7 651.0,3253.6 652.5,3253.3 654.0,3253.0 655.5,3255.0 657.0,3252.4 658.5,3252.1 660.0,3255.1 661.5,3252.2 663.0,3254.0 664.5,3251.6 666.0,3254.5 667.5,3253.7 669.0,3253.9 670.5,3250.2 672.0,3252.4 673.5,3252.4 675.0,3251.5 676.5,3248.6 678.0,3248.0 679.5,3247.6 681.0,3249.5 682.5,3247.6 684.0,3248.9 685.5,3249.4 687.0,3247.4 688.5,3244.1 690.0,3245.8 691.5,3243.9 693.0,3245.1 694.5,3240.5 696.0,3244.4 697.5,3239.0 699.0,3242.5 700.5,3237.4 702.0,3239.5 703.5,3236.2 705.0,3237.8 706.5,3234.6 708.0,3235.6 709.5,3232.5 711.0,3234.8 712.5,3228.8 714.0,3227.5 715.5,3227.2 717.0,3228.0 718.5,3222.4 720.0,3222.0 721.5,3219.5 723.0,3217.4 724.5,3214.6 726.0,3216.1 727.5,3208.7 729.0,3209.3 730.5,3202.6 732.0,3203.3 733.5,3197.6 735.0,3197.4 736.5,3189.5 738.0,3188.4 739.5,3182.3 741.0,3180.1 742.5,3171.6 744.0,3167.4 745.5,3158.4 747.0,3152.9 748.5,3142.4 750.0,3134.7 751.5,3119.9 753.0,3108.8 754.5,3093.2 756.0,3083.4 757.5,3069.1 759.0,3051.1 760.5,3035.0 762.0,3021.5 763.5,3003.8 765.0,2988.0 766.5,2968.5 768.0,2950.0 769.5,2925.4 771.0,2904.2 772.5,2874.5 774.0,2852.5 775.5,2822.6 777.0,2797.5 778.5,2751.9 780.0,2711.6 781.5,2687.4 783.0,2665.4 784.5,2633.3 786.0,2615.1 787.5,2594.8 789.0,2577.4 790.5,2554.8 792.0,2545.1 793.5,2554.9 795.0,2582.4 796.5,2612.6 798.0,2652.7 799.5,2704.9 801.0,2771.4 802.5,2826.9 804.0,2891.9 805.5,2946.6 807.0,2984.3 808.5,3013.8 810.0,3048.7 811.5,3072.3 813.0,3092.7 814.5,3115.4 816.0,3135.9 817.5,3149.7 819.0,3164.1 820.5,3172.9 822.0,3184.9 823.5,3191.9 825.0,3199.2 826.5,3205.8 828.0,3214.2 829.5,3215.3 831.0,3226.3 832.5,3228.7 834.0,3234.8 835.5,3236.8 837.0,3239.9 838.5,3244.4 840.0,3249.0 841.5,3251.0 843.0,3255.7 844.5,3258.8 846.0,3260.7 847.5,3260.6 849.0,3264.3 850.5,3267.4 852.0,3266.5 853.5,3267.6 855.0,3271.8 856.5,3270.0 858.0,3271.8 859.5,3275.6 861.0,3276.3 862.5,3274.1 864.0,3278.3 865.5,3273.8 867.0,3281.7 868.5,3278.1 870.0,3278.7 871.5,3280.5 873.0,3283.2 874.5,3280.7 876.0,3285.2 877.5,3284.8 879.0,3286.1 880.5,3284.0 882.0,3286.8 883.5,3285.6 885.0,3286.8 886.5,3287.2 888.0,3290.2 889.5,3291.4 891.0,3292.4 892.5,3291.6 894.0,3293.9 895.5,3291.0 897.0,3296.2 898.5,3294.1 900.0,3295.8 901.5,3294.3 903.0,3296.2 904.5,3294.3 906.0,3296.3 907.5,3297.5 909.0,3296.1 910.5,3294.5 912.0,3297.6 913.5,3293.5 915.0,3297.3 916.5,3292.2 918.0,3296.2 919.5,3294.0 921.0,3296.9 922.5,3293.2 924.0,3295.9 925.5,3294.8 927.0,3296.5 928.5,3294.3 930.0,3296.7 931.5,3294.9 933.0,3297.2 934.5,3294.3 936.0,3299.0 937.5,3293.9 939.0,3296.6 940.5,3293.7 942.0,3296.8 943.5,3294.1 945.0,3296.3 946.5,3294.1 948.0,3297.4 949.5,3294.0 951.0,3296.7 952.5,3296.7 954.0,3296.7 955.5,3294.4 957.0,3296.8 958.5,3295.4 960.0,3297.2 961.5,3295.8 963.0,3295.7 964.5,3293.5 966.0,3298.2 967.5,3296.3 969.0,3298.6 970.5,3294.3 972.0,3300.5 973.5,3300.0 975.0,3298.9 976.5,3296.4 978.0,3298.8 979.5,3296.8 981.0,3300.2 982.5,3296.4 984.0,3300.9 985.5,3296.7 987.0,3301.6 988.5,3297.9 990.0,3300.1 991.5,3296.5 993.0,3300.2 994.5,3298.4 996.0,3300.2 997.5,3297.3 999.0,3300.8 1000.5,3298.1 1002.0,3298.3 1003.5,3297.5 1005.0,3300.3 1006.5,3299.9 1008.0,3298.5 1009.5,3300.8 1011.0,3300.4 1012.5,3299.1 1014.0,3300.7 1015.5,3298.8 1017.0,3301.1 1018.5,3299.2 1020.0,3300.7 1021.5,3298.9 1023.0,3301.8 1024.5,3297.5 1026.0,3301.4 1027.5,3299.0 1029.0,3299.4 1030.5,3298.0 1032.0,3302.0 1033.5,3299.5 1035.0,3298.1 1036.5,3298.6 1038.0,3302.5 1039.5,3301.5 1041.0,3301.3 1042.5,3304.1 1044.0,3302.6 1045.5,3299.1 1047.0,3301.2 1048.5,3297.8 1050.0,3301.4 1051.5,3298.6 1053.0,3302.1 1054.5,3299.9 1056.0,3299.2 1057.5,3299.6 1059.0,3301.6 1060.5,3298.2 1062.0,3302.2 1063.5,3303.4 1065.0,3301.4 1066.5,3298.3 1068.0,3299.7 1069.5,3299.9 1071.0,3302.0 1072.5,3298.9 1074.0,3301.1 1075.5,3298.2 1077.0,3303.2 1078.5,3301.8 1080.0,3301.3 1081.5,3299.5 1083.0,3301.1 1084.5,3299.4 1086.0,3302.5 1087.5,3297.3 1089.0,3302.0 1090.5,3298.4 1092.0,3301.1 1093.5,3298.7 1095.0,3301.8 1096.5,3299.2 1098.0,3301.3 1099.5,3298.3 1101.0,3303.0 1102.5,3302.5 1104.0,3301.1 1105.5,3298.6 1107.0,3301.5 1108.5,3299.5 1110.0,3301.1 1111.5,3299.7 1113.0,3301.9 1114.5,3299.2 1116.0,3301.5 1117.5,3299.6 1119.0,3301.5 1120.5,3298.5 1122.0,3302.6 1123.5,3298.6 1125.0,3301.6 1126.5,3298.9 1128.0,3301.0 1129.5,3298.0 1131.0,3298.5 1132.5,3298.4 1134.0,3301.0 1135.5,3297.9 1137.0,3300.1 1138.5,3298.1 1140.0,3302.0 1141.5,3298.4 1143.0,3301.1 1144.5,3298.1 1146.0,3301.3 1147.5,3297.5 1149.0,3300.3 1150.5,3296.0 1152.0,3296.3 1153.5,3295.3 1155.0,3296.5 1156.5,3296.8 1158.0,3298.1 1159.5,3296.2 1161.0,3297.4 1162.5,3295.5 1164.0,3297.4 1165.5,3294.8 1167.0,3296.3 1168.5,3293.1 1170.0,3296.2 1171.5,3293.3 1173.0,3294.9 1174.5,3292.4 1176.0,3293.6 1177.5,3291.1 1179.0,3289.9 1180.5,3289.7 1182.0,3290.2 1183.5,3287.1 1185.0,3288.9 1186.5,3287.4 1188.0,3285.3 1189.5,3284.2 1191.0,3282.4 1192.5,3279.7 1194.0,3280.0 1195.5,3276.1 1197.0,3277.4 1198.5,3274.2 1200.0,3274.9 1201.5,3270.2 1203.0,3272.6 1204.5,3267.3 1206.0,3266.4 1207.5,3264.3 1209.0,3267.2 1210.5,3264.8 1212.0,3269.3 1213.5,3267.1 1215.0,3270.2 1216.5,3270.0 1218.0,3273.6 1219.5,3272.6 1221.0,3274.7 1222.5,3270.1 1224.0,3273.9 1225.5,3268.4 1227.0,3270.8 1228.5,3263.3 1230.0,3261.6 1231.5,3255.3 1233.0,3251.8 1234.5,3242.4 1236.0,3231.9 1237.5,3212.3 1239.0,3200.8 1240.5,3181.3 1242.0,3168.7 1243.5,3157.0 1245.0,3157.0 1246.5,3160.5 1248.0,3173.7 1249.5,3182.8 1251.0,3197.1 1252.5,3210.7 1254.0,3232.9 1255.5,3250.2 1257.0,3262.7 1258.5,3265.8 1260.0,3273.3 1261.5,3278.5 1263.0,3282.4 1264.5,3281.4 1266.0,3286.1 1267.5,3284.7 1269.0,3288.9 1270.5,3285.7 1272.0,3289.4 1273.5,3286.5 1275.0,3290.0 1276.5,3286.4 1278.0,3291.2 1279.5,3288.1 1281.0,3290.5 1282.5,3286.2 1284.0,3292.1 1285.5,3289.1 1287.0,3291.6 1288.5,3290.4 1290.0,3294.0 1291.5,3295.0 1293.0,3296.2 1294.5,3295.3 1296.0,3298.4 1297.5,3296.8 1299.0,3301.9 1300.5,3299.4 1302.0,3303.6 1303.5,3301.8 1305.0,3304.3 1306.5,3301.9 1308.0,3303.9 1309.5,3300.8 1311.0,3301.3 1312.5,3301.3 1314.0,3304.7 1315.5,3302.1 1317.0,3305.3 1318.5,3301.1 1320.0,3301.4 1321.5,3300.3 1323.0,3302.8 1324.5,3301.2 1326.0,3301.2 1327.5,3300.5 1329.0,3302.2 1330.5,3302.5 1332.0,3302.0 1333.5,3299.8 1335.0,3301.8 1336.5,3298.8 1338.0,3301.3 1339.5,3296.8 1341.0,3298.2 1342.5,3298.0 1344.0,3296.3 1345.5,3292.7 1347.0,3293.6 1348.5,3288.6 1350.0,3291.1 1351.5,3286.3 1353.0,3287.4 1354.5,3283.2 1356.0,3286.7 1357.5,3283.6 1359.0,3283.3 1360.5,3276.0 1362.0,3281.5 1363.5,3278.5 1365.0,3277.1 1366.5,3273.1 1368.0,3275.3 1369.5,3273.0 1371.0,3272.9 1372.5,3273.1 1374.0,3275.1 1375.5,3275.5 1377.0,3276.3 1378.5,3273.0 1380.0,3270.4 1381.5,3273.3 1383.0,3277.0 1384.5,3273.1 1386.0,3276.9 1387.5,3274.0 1389.0,3278.3 1390.5,3274.8 1392.0,3277.0 1393.5,3274.5 1395.0,3276.8 1396.5,3279.2 1398.0,3278.4 1399.5,3277.8 1401.0,3277.2 1402.5,3275.8 1404.0,3278.8 1405.5,3275.5 1407.0,3278.6 1408.5,3276.4 1410.0,3278.6 1411.5,3278.8 1413.0,3278.8 1414.5,3277.7 1416.0,3280.0 1417.5,3277.1 1419.0,3278.1 1420.5,3277.4 1422.0,3280.0 1423.5,3277.1 1425.0,3278.9 1426.5,3275.6 1428.0,3277.5 1429.5,3277.9 1431.0,3275.7 1432.5,3272.5 1434.0,3274.7 1435.5,3269.4 1437.0,3270.9 1438.5,3265.6 1440.0,3268.0 1441.5,3264.9 1443.0,3266.3 1444.5,3263.4 1446.0,3264.1 1447.5,3260.4 1449.0,3261.4 1450.5,3257.6 1452.0,3258.4 1453.5,3254.7 1455.0,3253.8 1456.5,3254.8 1458.0,3250.2 1459.5,3251.3 1461.0,3251.7 1462.5,3249.7 1464.0,3248.8 1465.5,3239.6 1467.0,3243.7 1468.5,3242.8 1470.0,3239.6 1471.5,3234.1 1473.0,3239.2 1474.5,3236.8 1476.0,3241.0 1477.5,3240.2 1479.0,3245.9 1480.5,3248.7 1482.0,3251.1 1483.5,3251.4 1485.0,3259.3 1486.5,3257.6 1488.0,3262.9 1489.5,3263.8 1491.0,3267.1 1492.5,3265.4 1494.0,3271.9 1495.5,3271.4 1497.0,3273.1 1498.5,3274.2 1500.0,3279.1 1501.5,3278.4 1503.0,3283.2 1504.5,3281.4 1506.0,3287.4 1507.5,3283.1 1509.0,3287.7 1510.5,3286.0 1512.0,3289.3 1513.5,3287.3 1515.0,3289.4 1516.5,3287.8 1518.0,3288.1 1519.5,3289.4 1521.0,3291.3 1522.5,3290.3 1524.0,3293.1 1525.5,3290.3 1527.0,3291.2 1528.5,3290.6 1530.0,3295.8 1531.5,3291.6 1533.0,3294.8 1534.5,3294.8 1536.0,3294.6 1537.5,3291.3 1539.0,3295.0 1540.5,3293.6 1542.0,3295.7 1543.5,3291.8 1545.0,3295.8 1546.5,3296.4 1548.0,3293.5 1549.5,3296.5 1551.0,3297.0 1552.5,3293.3 1554.0,3297.2 1555.5,3295.3 1557.0,3297.2 1558.5,3295.3 1560.0,3297.8 1561.5,3294.3 1563.0,3297.0 1564.5,3296.9 1566.0,3297.0 1567.5,3294.1 1569.0,3298.2 1570.5,3294.6 1572.0,3296.7 1573.5,3294.8 1575.0,3293.9 1576.5,3294.5 1578.0,3297.4 1579.5,3292.9 1581.0,3297.2 1582.5,3294.3 1584.0,3297.3 1585.5,3299.0 1587.0,3296.9 1588.5,3294.8 1590.0,3297.4 1591.5,3295.3 1593.0,3298.2 1594.5,3294.9 1596.0,3296.3 1597.5,3297.2 1599.0,3297.9 1600.5,3294.5 1602.0,3297.5 1603.5,3294.9 1605.0,3297.3 1606.5,3298.2 1608.0,3297.7 1609.5,3294.0 1611.0,3296.4 1612.5,3293.6 1614.0,3297.2 1615.5,3294.5 1617.0,3296.1 1618.5,3293.4 1620.0,3294.4 1621.5,3294.6 1623.0,3294.5 1624.5,3294.7 1626.0,3295.9 1627.5,3294.0 1629.0,3294.1 1630.5,3293.5 1632.0,3295.1 1633.5,3295.2 1635.0,3293.3 1636.5,3291.5 1638.0,3294.8 1639.5,3290.8 1641.0,3293.7 1642.5,3291.4 1644.0,3293.2 1645.5,3289.8 1647.0,3289.0 1648.5,3288.1 1650.0,3290.0 1651.5,3286.1 1653.0,3288.2 1654.5,3285.5 1656.0,3286.3 1657.5,3283.6 1659.0,3283.7 1660.5,3280.1 1662.0,3281.9 1663.5,3280.6 1665.0,3282.7 1666.5,3279.7 1668.0,3281.0 1669.5,3276.6 1671.0,3281.1 1672.5,3276.7 1674.0,3275.7 1675.5,3274.2 1677.0,3276.0 1678.5,3271.7 1680.0,3272.6 1681.5,3268.7 1683.0,3269.3 1684.5,3263.5 1686.0,3267.0 1687.5,3261.2 1689.0,3258.9 1690.5,3257.5 1692.0,3260.5 1693.5,3252.3 1695.0,3252.4 1696.5,3250.0 1698.0,3247.3 1699.5,3241.1 1701.0,3238.1 1702.5,3233.6 1704.0,3233.7 1705.5,3226.2 1707.0,3225.0 1708.5,3216.1 1710.0,3213.7 1711.5,3205.2 1713.0,3202.2 1714.5,3193.8 1716.0,3186.4 1717.5,3174.8 1719.0,3165.6 1720.5,3147.6 1722.0,3133.9 1723.5,3115.0 1725.0,3102.1 1726.5,3078.8 1728.0,3058.9 1729.5,3028.7 1731.0,2988.8 1732.5,2939.7 1734.0,2904.3 1735.5,2862.0 1737.0,2828.2 1738.5,2797.3 1740.0,2776.7 1741.5,2744.3 1743.0,2738.3 1744.5,2757.0 1746.0,2786.7 1747.5,2800.3 1749.0,2816.8 1750.5,2845.6 1752.0,2889.6 1753.5,2935.3 1755.0,2979.0 1756.5,3014.6 1758.0,3038.3 1759.5,3054.3 1761.0,3072.0 1762.5,3085.2 1764.0,3101.6 1765.5,3113.8 1767.0,3129.5 1768.5,3138.3 1770.0,3151.9 1771.5,3159.1 1773.0,3171.1 1774.5,3175.4 1776.0,3182.7 1777.5,3190.4 1779.0,3198.5 1780.5,3201.5 1782.0,3208.7 1783.5,3210.6 1785.0,3218.4 1786.5,3221.4 1788.0,3223.1 1789.5,3225.5 1791.0,3231.8 1792.5,3231.3 1794.0,3237.5 1795.5,3237.2 1797.0,3242.7 1798.5,3243.7 1800.0,3247.9 1801.5,3246.9 1803.0,3252.5 1804.5,3253.2 1806.0,3257.1 1807.5,3256.6 1809.0,3262.1 1810.5,3260.6 1812.0,3263.6 1813.5,3263.0 1815.0,3265.8 1816.5,3265.0 1818.0,3265.6 1819.5,3267.4 1821.0,3270.9 1822.5,3269.3 1824.0,3270.2 1825.5,3269.4 1827.0,3274.1 1828.5,3270.1 1830.0,3272.9 1831.5,3272.9 1833.0,3275.5 1834.5,3273.2 1836.0,3271.5 1837.5,3273.4 1839.0,3275.3 1840.5,3271.8 1842.0,3275.9 1843.5,3273.4 1845.0,3275.1 1846.5,3272.6 1848.0,3275.3 1849.5,3272.8 1851.0,3275.4 1852.5,3272.2 1854.0,3274.7 1855.5,3270.4 1857.0,3266.7 1858.5,3264.5 1860.0,3265.6 1861.5,3260.0 1863.0,3261.5 1864.5,3255.3 1866.0,3256.6 1867.5,3248.2 1869.0,3244.9 1870.5,3236.3 1872.0,3234.2 1873.5,3222.4 1875.0,3214.3 1876.5,3202.8 1878.0,3196.6 1879.5,3200.9 1881.0,3205.4 1882.5,3216.5 1884.0,3226.6 1885.5,3234.1 1887.0,3245.8 1888.5,3256.4 1890.0,3262.5 1891.5,3265.2 1893.0,3272.3 1894.5,3272.7 1896.0,3278.4 1897.5,3278.1 1899.0,3282.8 1900.5,3283.1 1902.0,3284.5 1903.5,3286.7 1905.0,3291.0 1906.5,3289.2 1908.0,3295.1 1909.5,3292.2 1911.0,3294.2 1912.5,3294.5 1914.0,3297.7 1915.5,3295.9 1917.0,3297.5 1918.5,3295.6 1920.0,3299.0 1921.5,3297.2 1923.0,3300.6 1924.5,3297.2 1926.0,3300.5 1927.5,3298.0 1929.0,3301.0 1930.5,3298.9 1932.0,3301.2 1933.5,3301.1 1935.0,3298.4 1936.5,3299.7 1938.0,3302.8 1939.5,3299.5 1941.0,3301.1 1942.5,3298.7 1944.0,3301.2 1945.5,3298.6 1947.0,3300.6 1948.5,3297.9 1950.0,3301.8 1951.5,3298.0 1953.0,3300.9 1954.5,3299.7 1956.0,3298.4 1957.5,3296.2 1959.0,3294.8 1960.5,3294.3 1962.0,3296.0 1963.5,3294.2 1965.0,3296.4 1966.5,3293.2 1968.0,3295.5 1969.5,3292.7 1971.0,3291.9 1972.5,3292.3 1974.0,3294.7 1975.5,3291.3 1977.0,3294.0 1978.5,3292.2 1980.0,3295.1 1981.5,3293.8 1983.0,3297.8 1984.5,3297.3 1986.0,3301.0 1987.5,3300.3 1989.0,3305.0 1990.5,3304.7 1992.0,3307.7 1993.5,3307.2 1995.0,3311.9 1996.5,3307.0 1998.0,3311.1 1999.5,3307.2 2001.0,3311.9 2002.5,3311.4 2004.0,3308.1 2005.5,3306.9 2007.0,3309.6 2008.5,3307.4 2010.0,3309.1 2011.5,3307.0 2013.0,3308.3 2014.5,3305.0 2016.0,3309.3 2017.5,3305.6 2019.0,3308.8 2020.5,3306.1 2022.0,3305.8 2023.5,3305.9 2025.0,3307.6 2026.5,3307.4 2028.0,3304.7 2029.5,3308.8 2031.0,3310.4 2032.5,3309.0 2034.0,3312.8 2035.5,3310.9 2037.0,3314.4 2038.5,3312.9 2040.0,3318.5 2041.5,3315.5 2043.0,3319.3 2044.5,3320.6 2046.0,3321.7 2047.5,3319.4 2049.0,3322.9 2050.5,3320.3 2052.0,3324.0 2053.5,3323.5 2055.0,3325.8 2056.5,3322.0 2058.0,3326.1 2059.5,3324.0 2061.0,3326.8 2062.5,3324.0 2064.0,3324.4 2065.5,3325.5 2067.0,3327.9 2068.5,3325.0 2070.0,3328.0 2071.5,3325.9 2073.0,3326.5 2074.5,3327.1 2076.0,3326.9 2077.5,3327.2 2079.0,3330.8 2080.5,3332.8 2082.0,3330.9 2083.5,3330.8 2085.0,3331.6 2086.5,3328.6 2088.0,3332.3 2089.5,3330.0 2091.0,3329.7 2092.5,3329.7 2094.0,3332.1 2095.5,3330.9 2097.0,3332.7 2098.5,3330.0 2100.0,3334.1 2101.5,3330.7 2103.0,3331.3 2104.0,3330.4" fill="none" stroke="#e81414" stroke-width="9" stroke-linejoin="round" stroke-linecap="round"/>
<polyline points="218.0,4042.0 219.5,4041.2 221.0,4042.2 222.5,4030.1 224.0,4038.7 225.5,4028.9 227.0,4038.5 228.5,4028.9 230.0,4039.2 231.5,4029.0 233.0,4034.9 234.5,4025.7 236.0,4034.8 237.5,4035.3 239.0,4024.8 240.5,4024.8 242.0,4033.6 243.5,4020.9 245.0,4033.8 246.5,4020.7 248.0,4031.2 249.5,4020.5 251.0,4020.6 252.5,4020.5 254.0,4027.0 255.5,4019.1 257.0,4027.1 258.5,4026.1 260.0,4025.4 261.5,4015.1 263.0,4025.1 264.5,4015.7 266.0,4025.4 267.5,4013.3 269.0,4020.2 270.5,4008.1 272.0,4021.1 273.5,4010.9 275.0,4017.0 276.5,4009.4 278.0,4015.7 279.5,4007.6 281.0,4013.9 282.5,4006.1 284.0,4004.1 285.5,4003.5 287.0,4013.9 288.5,4001.5 290.0,4007.8 291.5,4006.4 293.0,4004.5 294.5,4002.2 296.0,4000.4 297.5,3998.0 299.0,3995.8 300.5,3985.5 302.0,3993.8 303.5,3981.8 305.0,3979.6 306.5,3974.5 308.0,3981.5 309.5,3969.7 311.0,3973.9 312.5,3965.0 314.0,3972.2 315.5,3963.8 317.0,3974.5 318.5,3964.1 320.0,3966.7 321.5,3969.1 323.0,3980.0 324.5,3982.8 326.0,3983.8 327.5,3978.5 329.0,3987.8 330.5,3987.7 332.0,3988.4 333.5,3989.1 335.0,3982.0 336.5,3982.8 338.0,3982.1 339.5,3983.9 341.0,3993.4 342.5,3986.6 344.0,3994.7 345.5,3995.7 347.0,3999.3 348.5,3985.9 350.0,3996.4 351.5,3984.5 353.0,3994.5 354.5,3986.2 356.0,3994.3 357.5,3985.4 359.0,3994.4 360.5,3983.5 362.0,3991.9 363.5,3980.0 365.0,3989.3 366.5,3978.7 368.0,3979.3 369.5,3986.2 371.0,3987.4 372.5,3974.7 374.0,3984.0 375.5,3976.4 377.0,3983.1 378.5,3974.4 380.0,3985.1 381.5,3975.5 383.0,3983.4 384.5,3973.5 386.0,3984.0 387.5,3974.4 389.0,3984.3 390.5,3982.5 392.0,3974.5 393.5,3975.2 395.0,3983.5 396.5,3975.7 398.0,3986.3 399.5,3976.7 401.0,3984.4 402.5,3975.2 404.0,3984.7 405.5,3986.0 407.0,3985.1 408.5,3975.4 410.0,3986.9 411.5,3977.4 413.0,3986.2 414.5,3978.5 416.0,3985.5 417.5,3976.1 419.0,3986.3 420.5,3977.6 422.0,3986.2 423.5,3978.9 425.0,3987.5 426.5,3975.6 428.0,3989.1 429.5,3980.7 431.0,3977.3 432.5,3979.6 434.0,3988.4 435.5,3981.6 437.0,3989.0 438.5,3991.7 440.0,3989.5 441.5,3990.3 443.0,3994.0 444.5,3989.7 446.0,3990.8 447.5,3983.3 449.0,3994.8 450.5,3983.1 452.0,3993.0 453.5,3983.7 455.0,3990.2 456.5,3983.2 458.0,3990.2 459.5,3981.0 461.0,3992.2 462.5,3981.8 464.0,3981.5 465.5,3978.8 467.0,3987.8 468.5,3980.1 470.0,3989.7 471.5,3979.4 473.0,3987.3 474.5,3977.6 476.0,3987.6 477.5,3984.1 479.0,3985.8 480.5,3983.3 482.0,3982.6 483.5,3973.5 485.0,3981.0 486.5,3973.1 488.0,3980.2 489.5,3971.0 491.0,3977.8 492.5,3967.5 494.0,3976.3 495.5,3966.6 497.0,3974.1 498.5,3960.5 500.0,3970.8 501.5,3962.2 503.0,3970.6 504.5,3955.3 506.0,3964.8 507.5,3955.9 509.0,3955.3 510.5,3955.3 512.0,3962.9 513.5,3954.7 515.0,3966.2 516.5,3960.0 518.0,3970.5 519.5,3963.2 521.0,3974.8 522.5,3967.0 524.0,3976.8 525.5,3970.3 527.0,3979.9 528.5,3973.4 530.0,3984.1 531.5,3984.7 533.0,3987.0 534.5,3980.4 536.0,3989.0 537.5,3979.6 539.0,3988.2 540.5,3988.7 542.0,3989.6 543.5,3979.0 545.0,3986.9 546.5,3975.5 548.0,3984.7 549.5,3973.1 551.0,3981.5 552.5,3973.5 554.0,3980.7 555.5,3970.9 557.0,3981.2 558.5,3970.7 560.0,3979.5 561.5,3967.3 563.0,3982.7 564.5,3972.0 566.0,3982.6 567.5,3973.9 569.0,3984.3 570.5,3973.6 572.0,3985.6 573.5,3976.9 575.0,3989.2 576.5,3976.3 578.0,3988.2 579.5,3977.5 581.0,3986.4 582.5,3977.9 584.0,3990.8 585.5,3979.0 587.0,3979.3 588.5,3977.0 590.0,3987.6 591.5,3977.7 593.0,3986.5 594.5,3978.9 596.0,3987.9 597.5,3978.0 599.0,3987.0 600.5,3977.6 602.0,3987.1 603.5,3978.9 605.0,3989.6 606.5,3978.3 608.0,3985.1 609.5,3986.3 611.0,3983.5 612.5,3975.1 614.0,3984.1 615.5,3973.3 617.0,3983.3 618.5,3979.6 620.0,3978.3 621.5,3967.3 623.0,3978.7 624.5,3965.4 626.0,3965.4 627.5,3966.0 629.0,3974.5 630.5,3966.2 632.0,3975.7 633.5,3974.2 635.0,3977.1 636.5,3964.2 638.0,3973.4 639.5,3965.3 641.0,3972.1 642.5,3963.2 644.0,3962.2 645.5,3963.0 647.0,3970.2 648.5,3970.0 650.0,3969.9 651.5,3960.5 653.0,3969.4 654.5,3959.4 656.0,3969.3 657.5,3957.2 659.0,3966.9 660.5,3958.0 662.0,3957.7 663.5,3955.8 665.0,3969.0 666.5,3954.2 668.0,3965.4 669.5,3956.4 671.0,3964.5 672.5,3954.7 674.0,3964.3 675.5,3951.5 677.0,3960.1 678.5,3960.6 680.0,3962.0 681.5,3949.7 683.0,3957.0 684.5,3947.5 686.0,3957.6 687.5,3954.4 689.0,3956.5 690.5,3944.8 692.0,3951.4 693.5,3943.9 695.0,3951.3 696.5,3941.4 698.0,3950.5 699.5,3936.5 701.0,3946.6 702.5,3935.3 704.0,3942.3 705.5,3933.6 707.0,3931.8 708.5,3929.8 710.0,3935.8 711.5,3925.4 713.0,3922.9 714.5,3922.1 716.0,3928.5 717.5,3917.8 719.0,3923.2 720.5,3911.9 722.0,3917.7 723.5,3905.6 725.0,3911.9 726.5,3897.9 728.0,3903.0 729.5,3889.2 731.0,3895.5 732.5,3880.9 734.0,3887.9 735.5,3880.9 737.0,3864.8 738.5,3867.1 740.0,3861.5 741.5,3846.4 743.0,3849.3 744.5,3833.3 746.0,3832.4 747.5,3813.7 749.0,3814.2 750.5,3793.3 752.0,3785.5 753.5,3760.8 755.0,3751.4 756.5,3722.9 758.0,3705.5 759.5,3673.5 761.0,3662.3 762.5,3632.4 764.0,3623.6 765.5,3593.2 767.0,3577.0 768.5,3541.8 770.0,3527.6 771.5,3501.3 773.0,3471.5 774.5,3450.2 776.0,3438.5 777.5,3405.0 779.0,3394.6 780.5,3368.1 782.0,3378.3 783.5,3396.9 785.0,3428.1 786.5,3442.6 788.0,3477.5 789.5,3505.9 791.0,3532.9 792.5,3548.7 794.0,3585.9 795.5,3612.6 797.0,3655.6 798.5,3699.5 800.0,3730.1 801.5,3746.2 803.0,3778.2 804.5,3787.4 806.0,3799.8 807.5,3817.8 809.0,3841.8 810.5,3848.0 812.0,3867.9 813.5,3868.9 815.0,3888.1 816.5,3887.9 818.0,3903.9 819.5,3901.6 821.0,3915.9 822.5,3911.3 824.0,3927.3 825.5,3932.6 827.0,3937.4 828.5,3931.6 830.0,3934.7 831.5,3939.0 833.0,3952.5 834.5,3945.9 836.0,3958.2 837.5,3950.8 839.0,3963.6 840.5,3966.3 842.0,3968.0 843.5,3958.1 845.0,3970.6 846.5,3963.1 848.0,3976.3 849.5,3978.7 851.0,3977.8 852.5,3968.7 854.0,3980.3 855.5,3969.3 857.0,3983.7 858.5,3973.9 860.0,3982.9 861.5,3976.2 863.0,3985.3 864.5,3986.8 866.0,3985.8 867.5,3979.2 869.0,3989.0 870.5,3980.4 872.0,3991.4 873.5,3979.8 875.0,3992.2 876.5,3981.3 878.0,3990.5 879.5,3992.1 881.0,3992.5 882.5,3983.7 884.0,3992.4 885.5,3984.0 887.0,3992.4 888.5,3982.3 890.0,3985.5 891.5,3984.7 893.0,3996.2 894.5,3987.0 896.0,3994.0 897.5,3987.4 899.0,3995.3 900.5,3984.5 902.0,3987.3 903.5,3985.5 905.0,3995.3 906.5,3987.9 908.0,3995.8 909.5,3987.0 911.0,3996.1 912.5,3988.0 914.0,3999.2 915.5,3987.2 917.0,3998.9 918.5,3990.0 920.0,4000.3 921.5,3989.4 923.0,3998.0 924.5,3999.2 926.0,3998.7 927.5,3990.5 929.0,3997.8 930.5,3989.6 932.0,3989.0 933.5,3989.8 935.0,3990.6 936.5,3990.3 938.0,3997.8 939.5,3998.8 941.0,3999.5 942.5,3987.7 944.0,3988.8 945.5,3990.9 947.0,3990.7 948.5,3990.7 950.0,3989.7 951.5,3990.2 953.0,4000.8 954.5,3990.0 956.0,4000.2 957.5,3991.1 959.0,3998.6 960.5,3989.1 962.0,3998.5 963.5,3991.7 965.0,3999.9 966.5,3988.7 968.0,3999.1 969.5,3999.6 971.0,4002.2 972.5,3992.7 974.0,3999.5 975.5,3989.3 977.0,4000.6 978.5,3991.4 980.0,4003.2 981.5,4001.6 983.0,4001.8 984.5,3991.0 986.0,4001.4 987.5,3993.8 989.0,4003.3 990.5,3993.6 992.0,4001.5 993.5,3990.9 995.0,4001.7 996.5,3994.1 998.0,4001.2 999.5,3990.8 1001.0,4001.9 1002.5,3990.7 1004.0,4005.0 1005.5,3993.7 1007.0,4001.5 1008.5,3993.3 1010.0,4005.0 1011.5,3993.3 1013.0,3992.8 1014.5,3994.7 1016.0,4002.9 1017.5,3993.3 1019.0,4001.5 1020.5,3993.6 1022.0,4002.0 1023.5,3989.7 1025.0,4003.9 1026.5,3993.0 1028.0,4001.9 1029.5,3993.2 1031.0,4002.1 1032.5,3994.2 1034.0,4002.5 1035.5,3992.8 1037.0,4002.6 1038.5,3995.1 1040.0,4003.5 1041.5,4003.3 1043.0,4004.8 1044.5,3994.3 1046.0,4002.8 1047.5,3994.9 1049.0,4002.0 1050.5,3995.5 1052.0,4003.1 1053.5,3995.1 1055.0,4004.3 1056.5,3994.6 1058.0,4004.5 1059.5,3995.4 1061.0,4004.2 1062.5,3995.5 1064.0,4005.0 1065.5,3995.5 1067.0,4002.3 1068.5,4004.6 1070.0,4003.8 1071.5,3994.3 1073.0,3991.4 1074.5,3994.9 1076.0,4005.1 1077.5,3993.8 1079.0,4003.7 1080.5,3993.9 1082.0,3992.6 1083.5,3993.1 1085.0,4003.5 1086.5,4002.4 1088.0,4001.8 1089.5,3992.2 1091.0,4003.7 1092.5,3991.8 1094.0,4002.3 1095.5,3995.0 1097.0,4002.7 1098.5,3990.6 1100.0,4002.2 1101.5,4001.3 1103.0,4003.4 1104.5,3993.4 1106.0,4001.3 1107.5,3993.4 1109.0,4002.1 1110.5,3994.4 1112.0,4001.1 1113.5,3991.7 1115.0,4004.1 1116.5,3992.2 1118.0,4003.4 1119.5,3992.0 1121.0,4003.8 1122.5,4002.8 1124.0,4001.3 1125.5,3993.5 1127.0,4000.9 1128.5,3991.3 1130.0,4003.4 1131.5,3993.3 1133.0,4000.3 1134.5,3992.1 1136.0,3999.9 1137.5,3991.3 1139.0,4000.2 1140.5,3992.6 1142.0,3999.5 1143.5,3992.4 1145.0,4000.5 1146.5,3992.1 1148.0,4000.3 1149.5,3991.0 1151.0,3998.2 1152.5,4000.0 1154.0,3998.2 1155.5,3999.2 1157.0,3999.3 1158.5,3990.2 1160.0,3997.2 1161.5,3989.8 1163.0,3998.1 1164.5,3998.4 1166.0,3997.2 1167.5,3986.3 1169.0,3997.4 1170.5,3987.2 1172.0,3994.3 1173.5,3982.8 1175.0,3992.4 1176.5,3982.3 1178.0,3982.3 1179.5,3981.3 1181.0,3988.6 1182.5,3987.1 1184.0,3988.2 1185.5,3975.7 1187.0,3985.2 1188.5,3975.0 1190.0,3985.2 1191.5,3974.6 1193.0,3973.0 1194.5,3982.0 1196.0,3980.5 1197.5,3972.1 1199.0,3982.1 1200.5,3981.4 1202.0,3982.1 1203.5,3972.0 1205.0,3984.1 1206.5,3971.5 1208.0,3978.8 1209.5,3970.8 1211.0,3977.1 1212.5,3968.4 1214.0,3975.9 1215.5,3967.0 1217.0,3977.0 1218.5,3964.6 1220.0,3971.1 1221.5,3959.5 1223.0,3964.2 1224.5,3959.1 1226.0,3946.5 1227.5,3939.2 1229.0,3922.1 1230.5,3895.8 1232.0,3884.6 1233.5,3864.9 1235.0,3865.2 1236.5,3846.6 1238.0,3854.9 1239.5,3848.0 1241.0,3867.5 1242.5,3881.4 1244.0,3879.0 1245.5,3895.4 1247.0,3924.1 1248.5,3937.2 1250.0,3950.4 1251.5,3967.2 1253.0,3966.9 1254.5,3960.6 1256.0,3975.4 1257.5,3973.2 1259.0,3977.8 1260.5,3967.1 1262.0,3967.6 1263.5,3968.8 1265.0,3978.9 1266.5,3970.7 1268.0,3981.6 1269.5,3971.4 1271.0,3982.0 1272.5,3974.0 1274.0,3983.1 1275.5,3974.5 1277.0,3985.0 1278.5,3976.3 1280.0,3984.2 1281.5,3974.9 1283.0,3986.6 1284.5,3977.4 1286.0,3987.0 1287.5,3979.2 1289.0,3987.4 1290.5,3981.6 1292.0,3980.8 1293.5,3981.4 1295.0,3992.6 1296.5,3984.2 1298.0,3995.5 1299.5,3987.1 1301.0,3997.1 1302.5,3998.0 1304.0,4000.9 1305.5,3990.7 1307.0,4002.7 1308.5,3992.0 1310.0,4003.7 1311.5,3993.7 1313.0,4006.2 1314.5,3993.6 1316.0,4003.1 1317.5,3993.2 1319.0,4001.6 1320.5,3993.1 1322.0,3991.2 1323.5,4001.6 1325.0,4002.0 1326.5,3993.0 1328.0,3991.5 1329.5,3992.0 1331.0,4002.8 1332.5,3989.1 1334.0,3999.3 1335.5,3989.1 1337.0,3997.7 1338.5,3986.8 1340.0,3996.8 1341.5,3984.0 1343.0,3991.2 1344.5,3981.2 1346.0,3988.5 1347.5,3976.8 1349.0,3983.3 1350.5,3983.5 1352.0,3981.4 1353.5,3972.8 1355.0,3980.4 1356.5,3969.5 1358.0,3978.9 1359.5,3968.9 1361.0,3978.6 1362.5,3970.2 1364.0,3970.4 1365.5,3969.6 1367.0,3969.9 1368.5,3969.1 1370.0,3976.8 1371.5,3968.4 1373.0,3976.2 1374.5,3967.1 1376.0,3977.7 1377.5,3965.5 1379.0,3973.7 1380.5,3964.8 1382.0,3973.3 1383.5,3963.3 1385.0,3970.7 1386.5,3970.3 1388.0,3971.1 1389.5,3970.4 1391.0,3971.7 1392.5,3962.7 1394.0,3964.1 1395.5,3964.3 1397.0,3962.9 1398.5,3976.5 1400.0,3976.4 1401.5,3970.1 1403.0,3982.0 1404.5,3972.3 1406.0,3973.1 1407.5,3972.0 1409.0,3981.8 1410.5,3981.7 1412.0,3981.9 1413.5,3970.8 1415.0,3973.5 1416.5,3972.5 1418.0,3980.3 1419.5,3970.8 1421.0,3978.7 1422.5,3969.6 1424.0,3975.3 1425.5,3965.3 1427.0,3965.9 1428.5,3962.2 1430.0,3971.5 1431.5,3961.9 1433.0,3960.8 1434.5,3958.6 1436.0,3959.1 1437.5,3966.0 1439.0,3967.5 1440.5,3956.4 1442.0,3964.6 1443.5,3953.2 1445.0,3961.4 1446.5,3953.7 1448.0,3963.7 1449.5,3948.3 1451.0,3957.5 1452.5,3948.7 1454.0,3956.3 1455.5,3955.2 1457.0,3955.2 1458.5,3944.1 1460.0,3950.9 1461.5,3942.4 1463.0,3949.0 1464.5,3937.7 1466.0,3946.9 1467.5,3939.1 1469.0,3949.1 1470.5,3939.5 1472.0,3949.0 1473.5,3943.7 1475.0,3958.0 1476.5,3946.6 1478.0,3960.3 1479.5,3960.5 1481.0,3952.5 1482.5,3952.1 1484.0,3964.9 1485.5,3965.7 1487.0,3968.0 1488.5,3960.3 1490.0,3970.6 1491.5,3963.3 1493.0,3973.8 1494.5,3965.9 1496.0,3975.5 1497.5,3967.9 1499.0,3978.6 1500.5,3970.2 1502.0,3971.2 1503.5,3971.9 1505.0,3983.5 1506.5,3973.8 1508.0,3982.3 1509.5,3975.4 1511.0,3984.6 1512.5,3977.0 1514.0,3984.7 1515.5,3977.6 1517.0,3987.2 1518.5,3979.4 1520.0,3989.1 1521.5,3981.2 1523.0,3990.0 1524.5,3981.6 1526.0,3990.0 1527.5,3982.5 1529.0,3991.4 1530.5,3980.9 1532.0,3993.4 1533.5,3984.4 1535.0,3992.3 1536.5,3984.7 1538.0,3984.7 1539.5,3984.5 1541.0,3992.9 1542.5,3985.0 1544.0,3985.4 1545.5,3984.8 1547.0,3992.4 1548.5,3985.7 1550.0,3992.6 1551.5,3981.6 1553.0,3994.8 1554.5,3985.0 1556.0,3992.7 1557.5,3985.0 1559.0,3992.3 1560.5,3982.8 1562.0,3995.0 1563.5,3982.5 1565.0,3994.4 1566.5,3984.6 1568.0,3993.2 1569.5,3992.4 1571.0,3992.2 1572.5,3985.6 1574.0,3985.1 1575.5,3994.0 1577.0,3993.0 1578.5,3983.6 1580.0,3984.5 1581.5,3983.3 1583.0,3995.7 1584.5,3984.1 1586.0,3994.2 1587.5,3985.2 1589.0,3996.0 1590.5,3993.2 1592.0,3992.8 1593.5,3984.5 1595.0,3995.1 1596.5,3984.9 1598.0,3984.8 1599.5,3983.4 1601.0,3994.8 1602.5,3994.0 1604.0,3993.5 1605.5,3984.2 1607.0,3992.7 1608.5,3985.5 1610.0,3993.1 1611.5,3984.2 1613.0,3993.3 1614.5,3995.2 1616.0,3993.1 1617.5,3984.3 1619.0,3993.4 1620.5,3984.9 1622.0,3984.5 1623.5,3986.0 1625.0,3984.4 1626.5,3982.9 1628.0,3993.7 1629.5,3980.6 1631.0,3989.6 1632.5,3979.2 1634.0,3988.2 1635.5,3980.0 1637.0,3987.8 1638.5,3977.4 1640.0,3975.5 1641.5,3971.2 1643.0,3982.1 1644.5,3973.6 1646.0,3980.1 1647.5,3970.0 1649.0,3979.7 1650.5,3970.1 1652.0,3969.3 1653.5,3968.2 1655.0,3976.7 1656.5,3966.0 1658.0,3974.2 1659.5,3965.8 1661.0,3964.2 1662.5,3963.5 1664.0,3971.4 1665.5,3960.4 1667.0,3967.6 1668.5,3955.7 1670.0,3967.1 1671.5,3955.7 1673.0,3963.0 1674.5,3952.1 1676.0,3959.3 1677.5,3950.4 1679.0,3955.9 1680.5,3944.6 1682.0,3952.2 1683.5,3941.2 1685.0,3946.5 1686.5,3936.9 1688.0,3943.3 1689.5,3932.0 1691.0,3938.9 1692.5,3924.5 1694.0,3930.5 1695.5,3926.6 1697.0,3924.2 1698.5,3920.3 1700.0,3907.6 1701.5,3901.3 1703.0,3908.4 1704.5,3894.1 1706.0,3896.3 1707.5,3882.5 1709.0,3884.5 1710.5,3877.3 1712.0,3870.1 1713.5,3852.5 1715.0,3840.2 1716.5,3826.8 1718.0,3809.3 1719.5,3793.8 1721.0,3783.2 1722.5,3754.6 1724.0,3741.9 1725.5,3709.6 1727.0,3694.5 1728.5,3657.6 1730.0,3638.5 1731.5,3600.6 1733.0,3582.0 1734.5,3549.7 1736.0,3526.6 1737.5,3507.8 1739.0,3495.0 1740.5,3472.5 1742.0,3466.5 1743.5,3477.3 1745.0,3515.1 1746.5,3533.0 1748.0,3568.9 1749.5,3586.0 1751.0,3610.1 1752.5,3634.1 1754.0,3657.6 1755.5,3678.7 1757.0,3709.1 1758.5,3721.1 1760.0,3744.9 1761.5,3762.5 1763.0,3789.4 1764.5,3793.1 1766.0,3814.6 1767.5,3814.3 1769.0,3825.8 1770.5,3837.9 1772.0,3858.2 1773.5,3856.8 1775.0,3861.9 1776.5,3870.9 1778.0,3887.3 1779.5,3883.4 1781.0,3898.3 1782.5,3892.6 1784.0,3906.3 1785.5,3901.4 1787.0,3913.3 1788.5,3907.5 1790.0,3919.5 1791.5,3912.6 1793.0,3925.3 1794.5,3915.5 1796.0,3928.2 1797.5,3923.0 1799.0,3932.9 1800.5,3927.4 1802.0,3936.0 1803.5,3930.1 1805.0,3939.7 1806.5,3930.7 1808.0,3943.7 1809.5,3936.6 1811.0,3945.9 1812.5,3938.5 1814.0,3949.9 1815.5,3949.6 1817.0,3943.1 1818.5,3942.5 1820.0,3954.0 1821.5,3947.5 1823.0,3957.8 1824.5,3948.3 1826.0,3959.0 1827.5,3951.6 1829.0,3960.4 1830.5,3952.6 1832.0,3963.7 1833.5,3956.1 1835.0,3964.7 1836.5,3965.8 1838.0,3958.2 1839.5,3958.3 1841.0,3966.8 1842.5,3966.7 1844.0,3968.4 1845.5,3958.3 1847.0,3967.3 1848.5,3957.7 1850.0,3964.3 1851.5,3953.5 1853.0,3963.7 1854.5,3953.7 1856.0,3960.4 1857.5,3950.7 1859.0,3948.4 1860.5,3947.2 1862.0,3951.1 1863.5,3935.4 1865.0,3930.8 1866.5,3921.5 1868.0,3926.3 1869.5,3912.5 1871.0,3913.1 1872.5,3899.0 1874.0,3894.5 1875.5,3893.6 1877.0,3906.2 1878.5,3902.6 1880.0,3919.2 1881.5,3917.0 1883.0,3933.3 1884.5,3933.9 1886.0,3950.5 1887.5,3946.6 1889.0,3959.7 1890.5,3955.7 1892.0,3966.7 1893.5,3961.7 1895.0,3974.3 1896.5,3966.1 1898.0,3977.7 1899.5,3969.8 1901.0,3979.7 1902.5,3973.4 1904.0,3983.8 1905.5,3977.6 1907.0,3975.1 1908.5,3980.3 1910.0,3991.1 1911.5,3980.6 1913.0,3992.7 1914.5,3983.0 1916.0,3985.0 1917.5,3984.9 1919.0,3996.3 1920.5,3986.2 1922.0,3993.9 1923.5,3984.5 1925.0,3985.1 1926.5,3984.2 1928.0,3992.7 1929.5,3983.4 1931.0,3994.1 1932.5,3984.6 1934.0,3991.5 1935.5,3983.7 1937.0,3991.2 1938.5,3991.2 1940.0,3981.2 1941.5,3982.3 1943.0,3990.1 1944.5,3982.6 1946.0,3990.2 1947.5,3980.9 1949.0,3982.1 1950.5,3980.6 1952.0,3989.4 1953.5,3981.6 1955.0,3989.5 1956.5,3981.2 1958.0,3988.6 1959.5,3979.4 1961.0,3987.6 1962.5,3979.1 1964.0,3988.1 1965.5,3979.7 1967.0,3987.7 1968.5,3980.0 1970.0,3988.1 1971.5,3978.1 1973.0,3980.7 1974.5,3981.0 1976.0,3990.9 1977.5,3981.6 1979.0,3982.3 1980.5,3983.3 1982.0,3996.2 1983.5,3987.1 1985.0,3996.0 1986.5,3989.8 1988.0,4002.4 1989.5,3992.2 1991.0,3993.4 1992.5,3993.0 1994.0,3995.6 1995.5,4004.5 1997.0,4003.9 1998.5,3994.8 2000.0,4004.2 2001.5,3995.5 2003.0,4004.0 2004.5,3993.3 2006.0,4002.5 2007.5,3990.2 2009.0,4001.6 2010.5,4000.8 2012.0,3999.8 2013.5,3989.5 2015.0,3997.9 2016.5,3986.9 2018.0,3999.3 2019.5,3986.9 2021.0,3995.7 2022.5,3995.4 2024.0,3996.4 2025.5,3984.8 2027.0,3996.4 2028.5,3988.2 2030.0,4000.8 2031.5,3991.9 2033.0,4001.2 2034.5,4001.5 2036.0,4003.0 2037.5,3996.8 2039.0,4004.9 2040.5,3996.6 2042.0,4007.7 2043.5,3999.8 2045.0,3999.5 2046.5,4009.2 2048.0,4009.6 2049.5,4000.6 2051.0,4010.6 2052.5,4001.6 2054.0,4011.8 2055.5,4003.7 2057.0,4012.7 2058.5,4005.4 2060.0,4015.1 2061.5,4014.2 2063.0,4015.7 2064.5,4007.9 2066.0,4015.1 2067.5,4006.4 2069.0,4016.6 2070.5,4006.5 2072.0,4016.6 2073.5,4017.9 2075.0,4008.8 2075.6,4008.1" fill="none" stroke="#00ec00" stroke-width="13.5" stroke-linejoin="round" stroke-linecap="round"/>
<polyline points="218.0,4668.7 219.5,4661.3 221.0,4670.6 222.5,4660.9 224.0,4661.4 225.5,4661.3 227.0,4670.8 228.5,4661.2 230.0,4671.6 231.5,4661.4 233.0,4672.6 234.5,4663.6 236.0,4671.8 237.5,4662.5 239.0,4672.0 240.5,4671.7 242.0,4671.9 243.5,4662.7 245.0,4663.4 246.5,4663.2 248.0,4671.0 249.5,4662.1 251.0,4671.4 252.5,4663.7 254.0,4671.5 255.5,4662.4 257.0,4670.9 258.5,4663.3 260.0,4671.2 261.5,4663.5 263.0,4671.5 264.5,4662.8 266.0,4671.8 267.5,4671.2 269.0,4671.9 270.5,4661.6 272.0,4670.4 273.5,4660.8 275.0,4670.8 276.5,4662.4 278.0,4670.0 279.5,4668.6 281.0,4669.3 282.5,4668.4 284.0,4657.5 285.5,4667.1 287.0,4665.8 288.5,4657.1 290.0,4656.2 291.5,4652.4 293.0,4662.0 294.5,4652.6 296.0,4661.4 297.5,4650.4 299.0,4658.8 300.5,4648.2 302.0,4656.1 303.5,4647.2 305.0,4656.2 306.5,4647.5 308.0,4655.2 309.5,4646.4 311.0,4647.3 312.5,4649.5 314.0,4659.5 315.5,4651.1 317.0,4662.9 318.5,4655.3 320.0,4656.8 321.5,4664.7 323.0,4666.2 324.5,4658.1 326.0,4667.1 327.5,4659.1 329.0,4667.3 330.5,4659.8 332.0,4670.5 333.5,4660.3 335.0,4671.0 336.5,4672.1 338.0,4672.1 339.5,4662.4 341.0,4662.9 342.5,4661.6 344.0,4670.8 345.5,4671.7 347.0,4671.0 348.5,4663.9 350.0,4672.2 351.5,4663.9 353.0,4673.2 354.5,4671.3 356.0,4671.2 357.5,4663.3 359.0,4662.9 360.5,4662.1 362.0,4670.8 363.5,4662.3 365.0,4662.1 366.5,4662.4 368.0,4670.7 369.5,4662.0 371.0,4670.3 372.5,4660.8 374.0,4668.8 375.5,4672.3 377.0,4670.6 378.5,4661.3 380.0,4669.2 381.5,4660.3 383.0,4668.8 384.5,4660.8 386.0,4670.4 387.5,4659.8 389.0,4668.5 390.5,4660.8 392.0,4669.9 393.5,4661.1 395.0,4669.3 396.5,4670.6 398.0,4662.0 399.5,4661.6 401.0,4671.7 402.5,4670.5 404.0,4662.5 405.5,4663.4 407.0,4672.2 408.5,4664.1 410.0,4671.5 411.5,4662.7 413.0,4672.0 414.5,4663.4 416.0,4672.4 417.5,4665.1 419.0,4672.8 420.5,4665.4 422.0,4673.2 423.5,4673.9 425.0,4674.2 426.5,4664.8 428.0,4673.6 429.5,4664.2 431.0,4675.4 432.5,4674.6 434.0,4676.1 435.5,4674.1 437.0,4675.6 438.5,4675.2 440.0,4674.5 441.5,4676.8 443.0,4674.9 444.5,4667.0 446.0,4675.2 447.5,4666.7 449.0,4674.8 450.5,4675.3 452.0,4675.0 453.5,4665.7 455.0,4676.1 456.5,4666.5 458.0,4674.0 459.5,4674.6 461.0,4674.0 462.5,4665.6 464.0,4663.8 465.5,4664.6 467.0,4673.1 468.5,4664.5 470.0,4672.3 471.5,4661.1 473.0,4663.1 474.5,4671.3 476.0,4670.4 477.5,4662.1 479.0,4661.7 480.5,4661.4 482.0,4668.9 483.5,4660.4 485.0,4668.2 486.5,4659.2 488.0,4665.5 489.5,4656.4 491.0,4663.9 492.5,4654.5 494.0,4653.6 495.5,4652.9 497.0,4660.2 498.5,4648.6 500.0,4656.4 501.5,4646.0 503.0,4654.8 504.5,4648.3 506.0,4658.6 507.5,4653.2 509.0,4663.8 510.5,4658.3 512.0,4668.4 513.5,4662.3 515.0,4671.2 516.5,4672.4 518.0,4665.1 519.5,4674.4 521.0,4674.8 522.5,4668.5 524.0,4676.6 525.5,4669.7 527.0,4669.9 528.5,4669.8 530.0,4679.7 531.5,4670.3 533.0,4679.3 534.5,4671.2 536.0,4679.8 537.5,4672.4 539.0,4680.1 540.5,4671.5 542.0,4680.9 543.5,4672.6 545.0,4680.9 546.5,4673.0 548.0,4673.1 549.5,4673.9 551.0,4674.5 552.5,4673.0 554.0,4682.8 555.5,4674.6 557.0,4684.5 558.5,4674.7 560.0,4682.7 561.5,4674.5 563.0,4674.6 564.5,4673.7 566.0,4683.4 567.5,4674.7 569.0,4683.8 570.5,4675.0 572.0,4683.6 573.5,4675.4 575.0,4684.9 576.5,4675.3 578.0,4684.6 579.5,4675.9 581.0,4684.3 582.5,4675.2 584.0,4683.7 585.5,4683.2 587.0,4675.2 588.5,4675.6 590.0,4684.4 591.5,4684.3 593.0,4674.5 594.5,4672.8 596.0,4684.8 597.5,4673.7 599.0,4681.2 600.5,4672.7 602.0,4682.1 603.5,4671.6 605.0,4679.5 606.5,4671.3 608.0,4679.1 609.5,4668.2 611.0,4677.7 612.5,4669.1 614.0,4677.8 615.5,4668.8 617.0,4677.7 618.5,4678.4 620.0,4678.4 621.5,4676.2 623.0,4676.3 624.5,4668.5 626.0,4675.8 627.5,4666.6 629.0,4677.7 630.5,4667.9 632.0,4675.6 633.5,4667.8 635.0,4676.6 636.5,4667.0 638.0,4675.2 639.5,4667.5 641.0,4676.5 642.5,4667.7 644.0,4666.6 645.5,4667.3 647.0,4675.6 648.5,4674.4 650.0,4674.6 651.5,4666.1 653.0,4673.8 654.5,4663.4 656.0,4663.9 657.5,4662.8 659.0,4672.3 660.5,4660.4 662.0,4670.0 663.5,4660.4 665.0,4667.7 666.5,4659.2 668.0,4666.8 669.5,4657.4 671.0,4664.8 672.5,4655.8 674.0,4664.2 675.5,4654.0 677.0,4651.6 678.5,4651.4 680.0,4657.7 681.5,4649.4 683.0,4655.7 684.5,4645.5 686.0,4644.2 687.5,4643.3 689.0,4651.2 690.5,4639.6 692.0,4648.7 693.5,4646.3 695.0,4645.3 696.5,4633.9 698.0,4641.1 699.5,4639.2 701.0,4637.5 702.5,4627.4 704.0,4633.1 705.5,4630.8 707.0,4625.0 708.5,4611.8 710.0,4614.0 711.5,4599.9 713.0,4602.4 714.5,4598.5 716.0,4582.6 717.5,4576.1 719.0,4579.0 720.5,4564.7 722.0,4565.9 723.5,4550.5 725.0,4552.5 726.5,4536.7 728.0,4538.8 729.5,4521.9 731.0,4526.9 732.5,4521.7 734.0,4517.8 735.5,4505.1 737.0,4508.1 738.5,4497.2 740.0,4486.3 741.5,4465.7 743.0,4459.8 744.5,4437.0 746.0,4426.8 747.5,4401.1 749.0,4395.3 750.5,4371.0 752.0,4369.0 753.5,4351.9 755.0,4330.5 756.5,4293.0 758.0,4263.4 759.5,4238.8 761.0,4222.8 762.5,4190.2 764.0,4179.8 765.5,4149.5 767.0,4131.3 768.5,4119.2 770.0,4096.7 771.5,4083.9 773.0,4097.7 774.5,4124.1 776.0,4184.8 777.5,4214.1 779.0,4247.9 780.5,4283.3 782.0,4347.7 783.5,4372.2 785.0,4406.6 786.5,4442.5 788.0,4479.7 789.5,4493.0 791.0,4521.2 792.5,4533.0 794.0,4557.7 795.5,4562.1 797.0,4581.9 798.5,4582.7 800.0,4599.9 801.5,4599.0 803.0,4615.4 804.5,4611.4 806.0,4619.0 807.5,4624.9 809.0,4639.1 810.5,4635.0 812.0,4646.8 813.5,4641.1 815.0,4655.4 816.5,4649.4 818.0,4651.2 819.5,4663.4 821.0,4667.8 822.5,4661.0 824.0,4671.3 825.5,4663.7 827.0,4676.6 828.5,4669.8 830.0,4671.5 831.5,4681.4 833.0,4674.8 834.5,4675.7 836.0,4686.5 837.5,4680.0 839.0,4681.6 840.5,4681.8 842.0,4684.5 843.5,4683.9 845.0,4696.2 846.5,4687.5 848.0,4698.5 849.5,4690.9 851.0,4699.8 852.5,4691.7 854.0,4702.9 855.5,4695.2 857.0,4704.4 858.5,4704.8 860.0,4708.4 861.5,4698.7 863.0,4709.1 864.5,4701.2 866.0,4712.0 867.5,4711.7 869.0,4711.5 870.5,4713.0 872.0,4705.5 873.5,4713.7 875.0,4714.6 876.5,4707.3 878.0,4715.8 879.5,4708.0 881.0,4716.6 882.5,4708.0 884.0,4717.1 885.5,4707.8 887.0,4707.1 888.5,4708.3 890.0,4708.5 891.5,4708.5 893.0,4707.5 894.5,4707.9 896.0,4716.8 897.5,4717.1 899.0,4717.4 900.5,4707.5 902.0,4716.7 903.5,4707.4 905.0,4718.5 906.5,4708.8 908.0,4718.1 909.5,4719.1 911.0,4717.1 912.5,4709.1 914.0,4719.3 915.5,4708.7 917.0,4718.0 918.5,4717.8 920.0,4718.5 921.5,4709.8 923.0,4717.5 924.5,4718.7 926.0,4719.1 927.5,4709.7 929.0,4718.1 930.5,4708.2 932.0,4718.8 933.5,4710.4 935.0,4718.9 936.5,4708.5 938.0,4708.2 939.5,4710.0 941.0,4720.1 942.5,4718.4 944.0,4719.3 945.5,4710.7 947.0,4718.3 948.5,4709.6 950.0,4720.2 951.5,4709.6 953.0,4720.4 954.5,4710.2 956.0,4720.6 957.5,4710.1 959.0,4719.8 960.5,4719.3 962.0,4711.5 963.5,4711.2 965.0,4720.0 966.5,4712.1 968.0,4720.1 969.5,4712.6 971.0,4721.2 972.5,4713.1 974.0,4721.7 975.5,4712.9 977.0,4721.3 978.5,4712.2 980.0,4712.3 981.5,4714.1 983.0,4721.6 984.5,4712.5 986.0,4722.3 987.5,4714.6 989.0,4714.8 990.5,4714.3 992.0,4724.8 993.5,4713.0 995.0,4722.9 996.5,4723.8 998.0,4723.4 999.5,4715.3 1001.0,4724.4 1002.5,4723.9 1004.0,4724.2 1005.5,4716.1 1007.0,4724.1 1008.5,4715.4 1010.0,4726.2 1011.5,4714.6 1013.0,4724.6 1014.5,4716.7 1016.0,4725.0 1017.5,4717.4 1019.0,4724.7 1020.5,4717.3 1022.0,4727.7 1023.5,4717.2 1025.0,4725.4 1026.5,4718.0 1028.0,4725.2 1029.5,4717.8 1031.0,4726.5 1032.5,4726.6 1034.0,4725.7 1035.5,4718.4 1037.0,4727.3 1038.5,4718.2 1040.0,4726.1 1041.5,4717.7 1043.0,4726.5 1044.5,4717.3 1046.0,4717.7 1047.5,4717.8 1049.0,4726.4 1050.5,4718.7 1052.0,4718.9 1053.5,4717.8 1055.0,4727.1 1056.5,4716.9 1058.0,4728.0 1059.5,4719.1 1061.0,4727.2 1062.5,4718.5 1064.0,4728.9 1065.5,4718.8 1067.0,4726.8 1068.5,4718.2 1070.0,4726.6 1071.5,4717.6 1073.0,4727.7 1074.5,4719.0 1076.0,4727.3 1077.5,4726.4 1079.0,4728.5 1080.5,4719.0 1082.0,4726.6 1083.5,4718.5 1085.0,4728.2 1086.5,4718.1 1088.0,4726.9 1089.5,4719.0 1091.0,4716.7 1092.5,4718.9 1094.0,4717.5 1095.5,4718.5 1097.0,4727.0 1098.5,4719.0 1100.0,4726.3 1101.5,4718.8 1103.0,4727.0 1104.5,4717.2 1106.0,4728.5 1107.5,4727.4 1109.0,4726.7 1110.5,4718.8 1112.0,4727.4 1113.5,4726.3 1115.0,4728.4 1116.5,4717.8 1118.0,4726.4 1119.5,4718.0 1121.0,4727.7 1122.5,4718.6 1124.0,4726.5 1125.5,4717.6 1127.0,4726.8 1128.5,4718.2 1130.0,4725.9 1131.5,4717.8 1133.0,4725.2 1134.5,4717.7 1136.0,4726.7 1137.5,4716.9 1139.0,4716.8 1140.5,4716.8 1142.0,4724.1 1143.5,4715.4 1145.0,4724.6 1146.5,4713.5 1148.0,4724.5 1149.5,4714.5 1151.0,4713.7 1152.5,4715.5 1154.0,4722.3 1155.5,4713.3 1157.0,4722.1 1158.5,4722.2 1160.0,4723.9 1161.5,4713.4 1163.0,4720.8 1164.5,4722.0 1166.0,4710.6 1167.5,4711.5 1169.0,4720.3 1170.5,4717.6 1172.0,4715.9 1173.5,4706.9 1175.0,4714.8 1176.5,4705.3 1178.0,4713.8 1179.5,4702.0 1181.0,4703.1 1182.5,4700.7 1184.0,4711.2 1185.5,4702.9 1187.0,4710.0 1188.5,4701.7 1190.0,4711.6 1191.5,4700.1 1193.0,4711.1 1194.5,4701.9 1196.0,4711.9 1197.5,4701.3 1199.0,4709.2 1200.5,4699.6 1202.0,4710.4 1203.5,4701.6 1205.0,4708.6 1206.5,4699.7 1208.0,4709.1 1209.5,4697.7 1211.0,4706.3 1212.5,4702.8 1214.0,4698.6 1215.5,4685.7 1217.0,4689.2 1218.5,4674.7 1220.0,4677.1 1221.5,4658.0 1223.0,4656.8 1224.5,4640.0 1226.0,4646.1 1227.5,4643.5 1229.0,4660.8 1230.5,4661.1 1232.0,4678.2 1233.5,4686.1 1235.0,4693.7 1236.5,4702.0 1238.0,4707.1 1239.5,4701.6 1241.0,4703.8 1242.5,4704.0 1244.0,4715.2 1245.5,4705.8 1247.0,4716.0 1248.5,4707.1 1250.0,4708.3 1251.5,4710.1 1253.0,4719.1 1254.5,4710.3 1256.0,4719.2 1257.5,4719.0 1259.0,4719.5 1260.5,4710.7 1262.0,4712.1 1263.5,4713.0 1265.0,4720.9 1266.5,4711.9 1268.0,4721.8 1269.5,4722.7 1271.0,4724.4 1272.5,4715.0 1274.0,4723.2 1275.5,4716.2 1277.0,4724.6 1278.5,4716.0 1280.0,4716.2 1281.5,4717.3 1283.0,4727.6 1284.5,4717.9 1286.0,4728.0 1287.5,4726.6 1289.0,4719.4 1290.5,4719.6 1292.0,4727.2 1293.5,4717.3 1295.0,4729.6 1296.5,4719.9 1298.0,4728.3 1299.5,4719.6 1301.0,4730.1 1302.5,4720.1 1304.0,4729.3 1305.5,4721.4 1307.0,4721.2 1308.5,4720.7 1310.0,4728.9 1311.5,4720.7 1313.0,4728.1 1314.5,4719.8 1316.0,4727.1 1317.5,4726.6 1319.0,4725.8 1320.5,4715.5 1322.0,4722.3 1323.5,4712.0 1325.0,4719.0 1326.5,4710.2 1328.0,4716.8 1329.5,4707.2 1331.0,4713.9 1332.5,4703.9 1334.0,4702.4 1335.5,4699.6 1337.0,4706.2 1338.5,4705.8 1340.0,4703.1 1341.5,4692.6 1343.0,4700.5 1344.5,4692.8 1346.0,4703.6 1347.5,4691.5 1349.0,4702.2 1350.5,4692.6 1352.0,4701.5 1353.5,4692.5 1355.0,4701.6 1356.5,4702.8 1358.0,4693.6 1359.5,4692.6 1361.0,4701.4 1362.5,4694.1 1364.0,4702.0 1365.5,4702.3 1367.0,4694.8 1368.5,4695.0 1370.0,4694.7 1371.5,4695.1 1373.0,4703.2 1374.5,4693.2 1376.0,4703.9 1377.5,4694.1 1379.0,4703.6 1380.5,4695.0 1382.0,4705.0 1383.5,4696.5 1385.0,4705.0 1386.5,4694.8 1388.0,4706.3 1389.5,4706.1 1391.0,4705.7 1392.5,4695.7 1394.0,4705.6 1395.5,4697.2 1397.0,4705.4 1398.5,4697.9 1400.0,4697.3 1401.5,4698.0 1403.0,4705.4 1404.5,4697.5 1406.0,4705.9 1407.5,4696.6 1409.0,4703.8 1410.5,4694.2 1412.0,4702.0 1413.5,4693.8 1415.0,4700.0 1416.5,4691.4 1418.0,4699.3 1419.5,4688.6 1421.0,4696.3 1422.5,4686.8 1424.0,4686.3 1425.5,4686.5 1427.0,4693.1 1428.5,4693.0 1430.0,4692.7 1431.5,4683.7 1433.0,4691.6 1434.5,4681.0 1436.0,4680.7 1437.5,4680.3 1439.0,4687.9 1440.5,4677.8 1442.0,4686.8 1443.5,4676.2 1445.0,4685.0 1446.5,4673.7 1448.0,4682.3 1449.5,4672.6 1451.0,4681.9 1452.5,4670.9 1454.0,4682.6 1455.5,4680.0 1457.0,4680.8 1458.5,4673.3 1460.0,4683.8 1461.5,4675.2 1463.0,4686.7 1464.5,4679.1 1466.0,4689.4 1467.5,4681.8 1469.0,4691.7 1470.5,4693.8 1472.0,4694.8 1473.5,4694.5 1475.0,4696.0 1476.5,4689.2 1478.0,4698.6 1479.5,4691.4 1481.0,4700.2 1482.5,4692.9 1484.0,4702.5 1485.5,4694.8 1487.0,4705.0 1488.5,4697.0 1490.0,4706.0 1491.5,4697.5 1493.0,4706.9 1494.5,4698.0 1496.0,4708.5 1497.5,4699.3 1499.0,4707.3 1500.5,4698.6 1502.0,4707.1 1503.5,4698.6 1505.0,4707.4 1506.5,4697.3 1508.0,4707.4 1509.5,4707.7 1511.0,4707.1 1512.5,4697.4 1514.0,4707.1 1515.5,4698.7 1517.0,4707.2 1518.5,4699.4 1520.0,4706.9 1521.5,4699.3 1523.0,4699.6 1524.5,4708.0 1526.0,4707.7 1527.5,4699.6 1529.0,4707.9 1530.5,4708.4 1532.0,4699.8 1533.5,4699.7 1535.0,4708.4 1536.5,4699.1 1538.0,4707.8 1539.5,4699.4 1541.0,4707.9 1542.5,4699.5 1544.0,4707.7 1545.5,4699.3 1547.0,4707.8 1548.5,4699.9 1550.0,4708.5 1551.5,4699.5 1553.0,4707.3 1554.5,4698.5 1556.0,4699.9 1557.5,4698.5 1559.0,4707.2 1560.5,4699.4 1562.0,4708.1 1563.5,4697.0 1565.0,4708.8 1566.5,4698.5 1568.0,4708.1 1569.5,4699.6 1571.0,4697.3 1572.5,4708.0 1574.0,4708.2 1575.5,4699.3 1577.0,4707.2 1578.5,4698.1 1580.0,4706.2 1581.5,4698.5 1583.0,4696.7 1584.5,4698.3 1586.0,4707.5 1587.5,4696.4 1589.0,4705.7 1590.5,4698.5 1592.0,4696.9 1593.5,4705.7 1595.0,4705.7 1596.5,4697.8 1598.0,4705.6 1599.5,4705.0 1601.0,4705.3 1602.5,4697.1 1604.0,4705.3 1605.5,4696.3 1607.0,4704.4 1608.5,4706.9 1610.0,4703.7 1611.5,4703.6 1613.0,4704.2 1614.5,4704.3 1616.0,4702.2 1617.5,4694.1 1619.0,4702.1 1620.5,4693.1 1622.0,4700.3 1623.5,4692.0 1625.0,4699.9 1626.5,4689.9 1628.0,4700.3 1629.5,4689.2 1631.0,4687.8 1632.5,4688.8 1634.0,4697.7 1635.5,4685.9 1637.0,4688.5 1638.5,4687.8 1640.0,4697.3 1641.5,4688.2 1643.0,4696.1 1644.5,4689.0 1646.0,4698.6 1647.5,4689.4 1649.0,4688.9 1650.5,4697.3 1652.0,4697.0 1653.5,4686.3 1655.0,4696.4 1656.5,4685.6 1658.0,4692.9 1659.5,4683.7 1661.0,4679.9 1662.5,4679.9 1664.0,4688.0 1665.5,4684.7 1667.0,4682.4 1668.5,4680.9 1670.0,4679.7 1671.5,4668.8 1673.0,4673.9 1674.5,4663.4 1676.0,4669.2 1677.5,4657.8 1679.0,4663.4 1680.5,4649.8 1682.0,4656.3 1683.5,4643.5 1685.0,4650.1 1686.5,4636.5 1688.0,4640.2 1689.5,4625.7 1691.0,4628.7 1692.5,4615.0 1694.0,4617.7 1695.5,4600.7 1697.0,4600.8 1698.5,4581.0 1700.0,4573.0 1701.5,4563.8 1703.0,4564.1 1704.5,4557.4 1706.0,4549.5 1707.5,4529.5 1709.0,4521.1 1710.5,4490.4 1712.0,4475.9 1713.5,4447.9 1715.0,4440.2 1716.5,4415.9 1718.0,4396.9 1719.5,4375.2 1721.0,4358.1 1722.5,4334.7 1724.0,4306.2 1725.5,4272.4 1727.0,4274.8 1728.5,4287.4 1730.0,4326.7 1731.5,4340.6 1733.0,4360.2 1734.5,4390.5 1736.0,4416.5 1737.5,4430.3 1739.0,4464.6 1740.5,4475.5 1742.0,4505.9 1743.5,4514.2 1745.0,4528.1 1746.5,4539.6 1748.0,4555.0 1749.5,4552.9 1751.0,4568.2 1752.5,4565.5 1754.0,4581.3 1755.5,4578.9 1757.0,4595.5 1758.5,4594.2 1760.0,4609.2 1761.5,4605.8 1763.0,4611.0 1764.5,4615.7 1766.0,4622.7 1767.5,4627.6 1769.0,4631.4 1770.5,4645.4 1772.0,4648.0 1773.5,4640.9 1775.0,4655.0 1776.5,4649.2 1778.0,4659.6 1779.5,4651.5 1781.0,4665.9 1782.5,4658.0 1784.0,4669.4 1785.5,4659.6 1787.0,4672.2 1788.5,4665.4 1790.0,4675.2 1791.5,4669.1 1793.0,4678.8 1794.5,4671.1 1796.0,4681.9 1797.5,4674.0 1799.0,4686.6 1800.5,4675.6 1802.0,4677.3 1803.5,4688.2 1805.0,4689.2 1806.5,4681.6 1808.0,4691.9 1809.5,4682.2 1811.0,4683.3 1812.5,4683.0 1814.0,4692.1 1815.5,4693.7 1817.0,4685.4 1818.5,4684.9 1820.0,4692.5 1821.5,4685.1 1823.0,4693.0 1824.5,4693.1 1826.0,4693.1 1827.5,4685.4 1829.0,4682.7 1830.5,4684.4 1832.0,4693.0 1833.5,4685.3 1835.0,4692.6 1836.5,4685.4 1838.0,4694.2 1839.5,4684.7 1841.0,4694.6 1842.5,4683.6 1844.0,4690.2 1845.5,4678.5 1847.0,4673.6 1848.5,4667.8 1850.0,4673.4 1851.5,4660.2 1853.0,4663.0 1854.5,4646.6 1856.0,4647.0 1857.5,4631.9 1859.0,4636.8 1860.5,4633.9 1862.0,4638.8 1863.5,4649.4 1865.0,4660.7 1866.5,4657.9 1868.0,4672.8 1869.5,4670.5 1871.0,4683.3 1872.5,4678.5 1874.0,4690.6 1875.5,4685.3 1877.0,4696.0 1878.5,4691.0 1880.0,4701.6 1881.5,4704.6 1883.0,4706.2 1884.5,4699.2 1886.0,4709.2 1887.5,4701.4 1889.0,4701.7 1890.5,4703.5 1892.0,4713.8 1893.5,4706.9 1895.0,4715.9 1896.5,4708.9 1898.0,4716.8 1899.5,4709.4 1901.0,4717.7 1902.5,4716.8 1904.0,4717.1 1905.5,4705.6 1907.0,4705.1 1908.5,4704.1 1910.0,4714.2 1911.5,4704.4 1913.0,4714.9 1914.5,4706.3 1916.0,4714.7 1917.5,4706.5 1919.0,4714.9 1920.5,4706.0 1922.0,4715.5 1923.5,4706.7 1925.0,4707.6 1926.5,4707.4 1928.0,4716.4 1929.5,4706.6 1931.0,4717.7 1932.5,4709.0 1934.0,4719.2 1935.5,4718.9 1937.0,4718.0 1938.5,4710.3 1940.0,4718.5 1941.5,4711.1 1943.0,4718.5 1944.5,4709.9 1946.0,4710.1 1947.5,4712.2 1949.0,4720.8 1950.5,4720.3 1952.0,4712.8 1953.5,4713.3 1955.0,4722.5 1956.5,4723.4 1958.0,4724.4 1959.5,4714.4 1961.0,4723.8 1962.5,4715.5 1964.0,4723.2 1965.5,4723.2 1967.0,4715.2 1968.5,4716.4 1970.0,4716.5 1971.5,4716.7 1973.0,4724.2 1974.5,4717.0 1976.0,4715.1 1977.5,4716.8 1979.0,4725.1 1980.5,4726.4 1982.0,4727.0 1983.5,4717.9 1985.0,4725.7 1986.5,4717.3 1988.0,4726.0 1989.5,4726.3 1991.0,4726.6 1992.5,4718.5 1994.0,4719.3 1995.5,4718.3 1997.0,4727.2 1998.5,4719.4 2000.0,4727.6 2001.5,4719.5 2003.0,4727.4 2004.5,4719.1 2006.0,4729.2 2007.5,4720.5 2009.0,4720.7 2010.5,4720.3 2012.0,4730.7 2013.5,4720.3 2015.0,4731.2 2016.5,4721.2 2018.0,4720.6 2019.5,4721.4 2021.0,4729.2 2022.5,4721.8 2024.0,4729.6 2025.5,4721.2 2027.0,4729.5 2028.5,4722.5 2030.0,4729.9 2031.5,4721.9 2033.0,4731.0 2034.5,4721.3 2036.0,4721.8 2037.5,4723.2 2039.0,4732.7 2040.5,4721.1 2042.0,4732.4 2043.5,4723.4 2045.0,4732.7 2046.5,4722.7 2048.0,4733.2 2049.5,4733.2 2051.0,4733.0 2052.5,4724.8 2054.0,4733.7 2055.5,4725.0 2057.0,4733.4 2058.5,4724.3 2060.0,4733.7 2061.5,4733.6 2063.0,4733.6 2064.5,4724.7 2066.0,4734.2 2067.5,4724.9 2069.0,4733.4 2070.5,4726.2 2072.0,4734.2 2073.5,4726.0 2075.0,4734.9 2076.5,4726.7 2078.0,4735.0 2079.5,4734.3 2080.8,4735.3" fill="none" stroke="#808000" stroke-width="12.5" stroke-linejoin="round" stroke-linecap="round"/>
<rect x="202.5" y="40.5" width="15" height="4731" fill="#000"/>
<rect x="192" y="46" width="12" height="8" fill="#000"/>
<rect x="217" y="47.5" width="2134" height="13" fill="#000"/>
<rect x="2334" y="47.5" width="16" height="4699" fill="#000"/>
<rect x="202" y="4754" width="2154.5" height="18" fill="#000"/>
<rect x="210.2" y="4771" width="12.6" height="15" fill="#000"/>
<rect x="589.0" y="4771" width="12.6" height="15" fill="#000"/>
<rect x="971.9" y="4771" width="12.6" height="15" fill="#000"/>
<rect x="1352.4" y="4771" width="12.6" height="15" fill="#000"/>
<rect x="1733.4" y="4771" width="12.6" height="15" fill="#000"/>
<rect x="2113.2" y="4771" width="12.6" height="15" fill="#000"/>
<rect x="401.0" y="4771" width="10" height="7" fill="#000"/>
<rect x="782.0" y="4771" width="10" height="7" fill="#000"/>
<rect x="1162.0" y="4771" width="10" height="7" fill="#000"/>
<rect x="1542.0" y="4771" width="10" height="7" fill="#000"/>
<rect x="1925.0" y="4771" width="10" height="7" fill="#000"/>
<line x1="225.4" y1="1705.5" x2="2362.5" y2="1705.5" stroke="#000" stroke-width="12.3" stroke-dasharray="35 16.27"/>
<g font-family="'Liberation Sans', Arial, sans-serif" font-weight="bold"><text transform="matrix(0.92720 0 0 1.10813 333.32 149.79)" font-size="100" fill="#000" stroke="#000" stroke-width="4.913" stroke-linejoin="miter" stroke-miterlimit="3">S</text><text transform="matrix(1.12281 0 0 1.10982 509.22 438.80)" font-size="100" fill="#000" stroke="#000" stroke-width="4.479" stroke-linejoin="miter" stroke-miterlimit="3">I</text><text transform="matrix(1.02946 0 0 1.09964 759.65 578.10)" font-size="100" fill="#000" stroke="#000" stroke-width="4.697" stroke-linejoin="miter" stroke-miterlimit="3">K</text><text transform="matrix(1.07400 0 0 0.98824 834.14 575.76)" font-size="100" fill="#000" stroke="#000" stroke-width="4.849" stroke-linejoin="miter" stroke-miterlimit="3">+</text><text transform="matrix(0.96947 0 0 1.09682 913.62 574.00)" font-size="100" fill="#000" stroke="#000" stroke-width="4.840" stroke-linejoin="miter" stroke-miterlimit="3">C</text><text transform="matrix(0.99237 0 0 1.10389 1342.33 752.00)" font-size="100" fill="#000" stroke="#000" stroke-width="4.770" stroke-linejoin="miter" stroke-miterlimit="3">C</text><text transform="matrix(1.07287 0 0 1.08800 1596.16 729.50)" font-size="100" fill="#000" stroke="#000" stroke-width="4.628" stroke-linejoin="miter" stroke-miterlimit="3">K</text><text transform="matrix(1.13200 0 0 0.96667 1685.49 731.49)" font-size="100" fill="#000" stroke="#000" stroke-width="4.765" stroke-linejoin="miter" stroke-miterlimit="3">+</text><text transform="matrix(1.03053 0 0 1.10813 1765.88 730.19)" font-size="100" fill="#000" stroke="#000" stroke-width="4.676" stroke-linejoin="miter" stroke-miterlimit="3">C</text><text transform="matrix(1.17895 0 0 1.11273 1794.64 611.70)" font-size="100" fill="#000" stroke="#000" stroke-width="4.364" stroke-linejoin="miter" stroke-miterlimit="3">I</text><text transform="matrix(1.13200 0 0 0.93333 1843.09 611.73)" font-size="100" fill="#000" stroke="#000" stroke-width="4.842" stroke-linejoin="miter" stroke-miterlimit="3">+</text><text transform="matrix(1.28345 0 0 0.99553 1922.47 602.84)" font-size="100" fill="#000" stroke="#000" stroke-width="4.388" stroke-linejoin="miter" stroke-miterlimit="3">Q</text><text transform="matrix(0.86502 0 0 1.08800 1985.26 760.30)" font-size="100" fill="#000" stroke="#000" stroke-width="5.120" stroke-linejoin="miter" stroke-miterlimit="3">F</text><text transform="matrix(1.06047 0 0 1.12000 748.34 1808.50)" font-size="100" fill="#000" stroke="#000" stroke-width="4.586" stroke-linejoin="miter" stroke-miterlimit="3">K</text><text transform="matrix(1.07132 0 0 1.11418 1710.77 1788.10)" font-size="100" fill="#000" stroke="#000" stroke-width="4.576" stroke-linejoin="miter" stroke-miterlimit="3">K</text><text transform="matrix(1.38638 0 0 1.11418 245.74 2473.30)" font-size="100" fill="#000" stroke="#000" stroke-width="3.999" stroke-linejoin="miter" stroke-miterlimit="3">M</text><text transform="matrix(0.95415 0 0 1.11418 369.76 2473.30)" font-size="100" fill="#000" stroke="#000" stroke-width="4.835" stroke-linejoin="miter" stroke-miterlimit="3">L</text><text transform="matrix(1.09474 0 0 1.09964 489.11 2431.80)" font-size="100" fill="#000" stroke="#000" stroke-width="4.557" stroke-linejoin="miter" stroke-miterlimit="3">I</text><text transform="matrix(1.13185 0 0 1.10389 1126.97 2460.30)" font-size="100" fill="#000" stroke="#000" stroke-width="4.473" stroke-linejoin="miter" stroke-miterlimit="3">G</text><text transform="matrix(1.27273 0 0 1.11586 1214.39 2460.70)" font-size="100" fill="#000" stroke="#000" stroke-width="4.187" stroke-linejoin="miter" stroke-miterlimit="3">i</text><text transform="matrix(1.13037 0 0 1.10389 1367.68 2460.30)" font-size="100" fill="#000" stroke="#000" stroke-width="4.476" stroke-linejoin="miter" stroke-miterlimit="3">G</text><text transform="matrix(1.30329 0 0 1.04658 1453.59 2460.35)" font-size="100" fill="#000" stroke="#000" stroke-width="4.256" stroke-linejoin="miter" stroke-miterlimit="3">o</text><text transform="matrix(1.26187 0 0 0.98101 1838.45 2368.33)" font-size="100" fill="#000" stroke="#000" stroke-width="4.459" stroke-linejoin="miter" stroke-miterlimit="3">Q</text><text transform="matrix(1.25791 0 0 1.10691 979.76 443.55)" font-size="100" fill="#075e12" stroke="#075e12" stroke-width="2.114" stroke-linejoin="miter" stroke-miterlimit="3">Narmada R.</text><text transform="matrix(1.24290 0 0 1.12727 1025.14 1245.75)" font-size="100" fill="#87051e" stroke="#87051e" stroke-width="2.110" stroke-linejoin="miter" stroke-miterlimit="3">Amba R.</text><text transform="matrix(1.27350 0 0 1.10109 966.65 2254.45)" font-size="100" fill="#3a4bc8" stroke="#3a4bc8" stroke-width="2.106" stroke-linejoin="miter" stroke-miterlimit="3">Mandovi R.</text><text transform="matrix(1.27414 0 0 1.10982 966.65 2972.65)" font-size="100" fill="#ee1c24" stroke="#ee1c24" stroke-width="2.097" stroke-linejoin="miter" stroke-miterlimit="3">Netravati R.</text><text transform="matrix(1.24360 0 0 1.09818 961.28 3631.75)" font-size="100" fill="#00c832" stroke="#00c832" stroke-width="2.135" stroke-linejoin="miter" stroke-miterlimit="3">Chaliyar R.</text><text transform="matrix(1.27996 0 0 1.07636 979.21 4358.15)" font-size="100" fill="#b09668" stroke="#b09668" stroke-width="2.122" stroke-linejoin="miter" stroke-miterlimit="3">Neyyar R.</text><text transform="matrix(0.91364 0 0 0.88000 192.03 4859.50)" font-size="100" fill="#000">5°</text><text transform="matrix(0.92860 0 0 0.91636 540.00 4853.40)" font-size="100" fill="#000">10°</text><text transform="matrix(0.93783 0 0 0.89891 932.14 4856.60)" font-size="100" fill="#000">15°</text><text transform="matrix(0.95819 0 0 0.91636 1302.45 4852.00)" font-size="100" fill="#000">20°</text><text transform="matrix(0.95192 0 0 0.91636 1685.67 4850.00)" font-size="100" fill="#000">25°</text><text transform="matrix(0.92850 0 0 0.90182 2065.31 4843.00)" font-size="100" fill="#000">30°</text><text transform="matrix(1.24717 0 0 1.01818 1051.63 4960.00)" font-size="100" fill="#000">2θ</text><text transform="matrix(0.000000 -1.14923 1.25818 0 145.60 2731.76)" font-size="100" fill="#000">Intensity</text><text transform="matrix(0.012112 -1.12011 1.26545 0 2270.92 1684.56)" font-size="100" fill="#000">Deccan Trap Terrain</text><text transform="matrix(-0.002349 -1.14280 1.28000 0 2274.81 4031.86)" font-size="100" fill="#000">Archean- Proterozoic Terrain</text></g></svg>
</body></html>
